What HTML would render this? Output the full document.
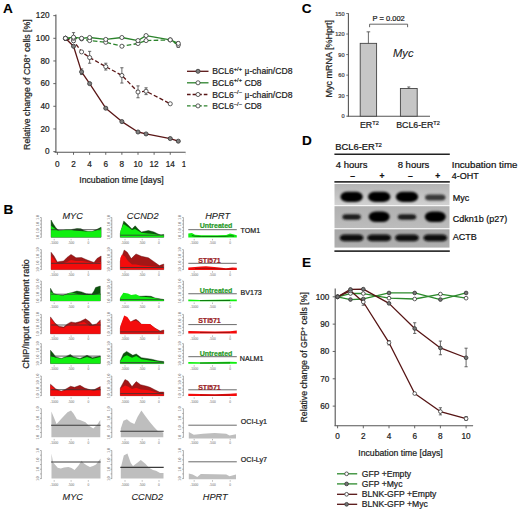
<!DOCTYPE html>
<html><head><meta charset="utf-8"><style>
html,body{margin:0;padding:0;background:#fff;overflow:hidden;}
svg{display:block;font-family:"Liberation Sans", sans-serif;}
</style></head><body>
<svg width="520" height="512" viewBox="0 0 520 512">
<rect width="520" height="512" fill="#fff"/>
<text x="3" y="13" font-size="13.6" text-anchor="start" fill="#000" font-weight="bold" font-style="normal"  stroke="#000" stroke-width="0.11">A</text>
<line x1="55.9" y1="14.5" x2="55.9" y2="152.2" stroke="#555" stroke-width="1.1" />
<line x1="54.6" y1="152.2" x2="185.6" y2="152.2" stroke="#555" stroke-width="1.1" />
<line x1="53.3" y1="151.6" x2="55.9" y2="151.6" stroke="#555" stroke-width="0.9" />
<text x="49.5" y="154.2" font-size="8.2" text-anchor="end" fill="#1c1c1c" font-weight="normal" font-style="normal"  stroke="#1c1c1c" stroke-width="0.22">0</text>
<line x1="53.3" y1="128.94" x2="55.9" y2="128.94" stroke="#555" stroke-width="0.9" />
<text x="49.5" y="131.54" font-size="8.2" text-anchor="end" fill="#1c1c1c" font-weight="normal" font-style="normal"  stroke="#1c1c1c" stroke-width="0.22">20</text>
<line x1="53.3" y1="106.28" x2="55.9" y2="106.28" stroke="#555" stroke-width="0.9" />
<text x="49.5" y="108.88" font-size="8.2" text-anchor="end" fill="#1c1c1c" font-weight="normal" font-style="normal"  stroke="#1c1c1c" stroke-width="0.22">40</text>
<line x1="53.3" y1="83.62" x2="55.9" y2="83.62" stroke="#555" stroke-width="0.9" />
<text x="49.5" y="86.22" font-size="8.2" text-anchor="end" fill="#1c1c1c" font-weight="normal" font-style="normal"  stroke="#1c1c1c" stroke-width="0.22">60</text>
<line x1="53.3" y1="60.96" x2="55.9" y2="60.96" stroke="#555" stroke-width="0.9" />
<text x="49.5" y="63.56" font-size="8.2" text-anchor="end" fill="#1c1c1c" font-weight="normal" font-style="normal"  stroke="#1c1c1c" stroke-width="0.22">80</text>
<line x1="53.3" y1="38.3" x2="55.9" y2="38.3" stroke="#555" stroke-width="0.9" />
<text x="49.5" y="40.9" font-size="8.2" text-anchor="end" fill="#1c1c1c" font-weight="normal" font-style="normal"  stroke="#1c1c1c" stroke-width="0.22">100</text>
<line x1="53.3" y1="15.64" x2="55.9" y2="15.64" stroke="#555" stroke-width="0.9" />
<text x="49.5" y="18.24" font-size="8.2" text-anchor="end" fill="#1c1c1c" font-weight="normal" font-style="normal"  stroke="#1c1c1c" stroke-width="0.22">120</text>
<line x1="57.4" y1="152.2" x2="57.4" y2="154.8" stroke="#555" stroke-width="0.9" />
<text x="57.4" y="166.6" font-size="8.2" text-anchor="middle" fill="#1c1c1c" font-weight="normal" font-style="normal"  stroke="#1c1c1c" stroke-width="0.22">0</text>
<line x1="73.52" y1="152.2" x2="73.52" y2="154.8" stroke="#555" stroke-width="0.9" />
<text x="73.52" y="166.6" font-size="8.2" text-anchor="middle" fill="#1c1c1c" font-weight="normal" font-style="normal"  stroke="#1c1c1c" stroke-width="0.22">2</text>
<line x1="89.64" y1="152.2" x2="89.64" y2="154.8" stroke="#555" stroke-width="0.9" />
<text x="89.64" y="166.6" font-size="8.2" text-anchor="middle" fill="#1c1c1c" font-weight="normal" font-style="normal"  stroke="#1c1c1c" stroke-width="0.22">4</text>
<line x1="105.76" y1="152.2" x2="105.76" y2="154.8" stroke="#555" stroke-width="0.9" />
<text x="105.76" y="166.6" font-size="8.2" text-anchor="middle" fill="#1c1c1c" font-weight="normal" font-style="normal"  stroke="#1c1c1c" stroke-width="0.22">6</text>
<line x1="121.88" y1="152.2" x2="121.88" y2="154.8" stroke="#555" stroke-width="0.9" />
<text x="121.88" y="166.6" font-size="8.2" text-anchor="middle" fill="#1c1c1c" font-weight="normal" font-style="normal"  stroke="#1c1c1c" stroke-width="0.22">8</text>
<line x1="138" y1="152.2" x2="138" y2="154.8" stroke="#555" stroke-width="0.9" />
<text x="138" y="166.6" font-size="8.2" text-anchor="middle" fill="#1c1c1c" font-weight="normal" font-style="normal"  stroke="#1c1c1c" stroke-width="0.22">10</text>
<line x1="154.12" y1="152.2" x2="154.12" y2="154.8" stroke="#555" stroke-width="0.9" />
<text x="154.12" y="166.6" font-size="8.2" text-anchor="middle" fill="#1c1c1c" font-weight="normal" font-style="normal"  stroke="#1c1c1c" stroke-width="0.22">12</text>
<line x1="170.24" y1="152.2" x2="170.24" y2="154.8" stroke="#555" stroke-width="0.9" />
<text x="170.24" y="166.6" font-size="8.2" text-anchor="middle" fill="#1c1c1c" font-weight="normal" font-style="normal"  stroke="#1c1c1c" stroke-width="0.22">14</text>
<clipPath id="cpA"><rect x="0" y="0" width="185.6" height="200"/></clipPath>
<g clip-path="url(#cpA)">
<line x1="186.36" y1="152.2" x2="186.36" y2="154.8" stroke="#555" stroke-width="0.9" />
<text x="186.36" y="166.6" font-size="8.2" text-anchor="middle" fill="#1c1c1c" font-weight="normal" font-style="normal"  stroke="#1c1c1c" stroke-width="0.22">16</text>
</g>
<text x="121.5" y="183" font-size="8.7" text-anchor="middle" fill="#1c1c1c" font-weight="normal" font-style="normal"  stroke="#1c1c1c" stroke-width="0.22">Incubation time [days]</text>
<text transform="translate(30.2,84.6) rotate(-90)" font-size="8.75" text-anchor="middle" fill="#1c1c1c" stroke="#1c1c1c" stroke-width="0.22">Relative change of CD8<tspan dy="-3" font-size="5.5">+</tspan><tspan dy="3"> cells [%]</tspan></text>
<line x1="73.52" y1="32.63" x2="73.52" y2="41.7" stroke="#444" stroke-width="0.8" />
<line x1="71.92" y1="32.63" x2="75.12" y2="32.63" stroke="#444" stroke-width="0.8" />
<line x1="71.92" y1="41.7" x2="75.12" y2="41.7" stroke="#444" stroke-width="0.8" />
<line x1="81.58" y1="68.89" x2="81.58" y2="74.56" stroke="#444" stroke-width="0.8" />
<line x1="79.98" y1="68.89" x2="83.18" y2="68.89" stroke="#444" stroke-width="0.8" />
<line x1="79.98" y1="74.56" x2="83.18" y2="74.56" stroke="#444" stroke-width="0.8" />
<line x1="89.64" y1="51.33" x2="89.64" y2="63.23" stroke="#444" stroke-width="0.8" />
<line x1="88.04" y1="51.33" x2="91.24" y2="51.33" stroke="#444" stroke-width="0.8" />
<line x1="88.04" y1="63.23" x2="91.24" y2="63.23" stroke="#444" stroke-width="0.8" />
<line x1="105.76" y1="63.23" x2="105.76" y2="70.02" stroke="#444" stroke-width="0.8" />
<line x1="104.16" y1="63.23" x2="107.36" y2="63.23" stroke="#444" stroke-width="0.8" />
<line x1="104.16" y1="70.02" x2="107.36" y2="70.02" stroke="#444" stroke-width="0.8" />
<line x1="121.88" y1="67.76" x2="121.88" y2="83.05" stroke="#444" stroke-width="0.8" />
<line x1="120.28" y1="67.76" x2="123.48" y2="67.76" stroke="#444" stroke-width="0.8" />
<line x1="120.28" y1="83.05" x2="123.48" y2="83.05" stroke="#444" stroke-width="0.8" />
<line x1="138" y1="85.89" x2="138" y2="97.78" stroke="#444" stroke-width="0.8" />
<line x1="136.4" y1="85.89" x2="139.6" y2="85.89" stroke="#444" stroke-width="0.8" />
<line x1="136.4" y1="97.78" x2="139.6" y2="97.78" stroke="#444" stroke-width="0.8" />
<line x1="146.06" y1="87.81" x2="146.06" y2="94.61" stroke="#444" stroke-width="0.8" />
<line x1="144.46" y1="87.81" x2="147.66" y2="87.81" stroke="#444" stroke-width="0.8" />
<line x1="144.46" y1="94.61" x2="147.66" y2="94.61" stroke="#444" stroke-width="0.8" />
<line x1="178.3" y1="41.7" x2="178.3" y2="47.36" stroke="#444" stroke-width="0.8" />
<line x1="176.7" y1="41.7" x2="179.9" y2="41.7" stroke="#444" stroke-width="0.8" />
<line x1="176.7" y1="47.36" x2="179.9" y2="47.36" stroke="#444" stroke-width="0.8" />
<polyline points="65.46,38.3 73.52,46.23 81.58,71.84 89.64,83.62 105.76,108.21 121.88,121.58 138,132 146.06,133.93 170.24,138.57 178.3,141.18" fill="none" stroke="#5a1616" stroke-width="1.3"  stroke-linejoin="round" />
<polyline points="65.46,38.3 73.52,40.79 81.58,51.9 89.64,57.56 105.76,66.62 121.88,75.46 138,92 146.06,91.21 170.24,103.79" fill="none" stroke="#5a1616" stroke-width="1.3" stroke-dasharray="4.2,2.2" stroke-linejoin="round" />
<polyline points="65.46,38.3 73.52,38.3 81.58,38.87 89.64,40.57 105.76,42.27 121.88,46.23 138,43.51 146.06,40.57 170.24,39.89 178.3,45.1" fill="none" stroke="#2c832c" stroke-width="1.3" stroke-dasharray="4.6,2.3" stroke-linejoin="round" />
<polyline points="65.46,38.3 73.52,37.17 81.58,38.3 89.64,37.51 105.76,39.43 121.88,37.51 138,40.57 146.06,35.58 170.24,39.89 178.3,43.4" fill="none" stroke="#2c832c" stroke-width="1.3"  stroke-linejoin="round" />
<circle cx="65.46" cy="38.3" r="2.05" fill="#808080" stroke="#333" stroke-width="0.8"/>
<circle cx="73.52" cy="46.23" r="2.05" fill="#808080" stroke="#333" stroke-width="0.8"/>
<circle cx="81.58" cy="71.84" r="2.05" fill="#808080" stroke="#333" stroke-width="0.8"/>
<circle cx="89.64" cy="83.62" r="2.05" fill="#808080" stroke="#333" stroke-width="0.8"/>
<circle cx="105.76" cy="108.21" r="2.05" fill="#808080" stroke="#333" stroke-width="0.8"/>
<circle cx="121.88" cy="121.58" r="2.05" fill="#808080" stroke="#333" stroke-width="0.8"/>
<circle cx="138" cy="132" r="2.05" fill="#808080" stroke="#333" stroke-width="0.8"/>
<circle cx="146.06" cy="133.93" r="2.05" fill="#808080" stroke="#333" stroke-width="0.8"/>
<circle cx="170.24" cy="138.57" r="2.05" fill="#808080" stroke="#333" stroke-width="0.8"/>
<circle cx="178.3" cy="141.18" r="2.05" fill="#808080" stroke="#333" stroke-width="0.8"/>
<circle cx="65.46" cy="38.3" r="2.05" fill="#fff" stroke="#333" stroke-width="0.8"/>
<circle cx="73.52" cy="40.79" r="2.05" fill="#fff" stroke="#333" stroke-width="0.8"/>
<circle cx="81.58" cy="51.9" r="2.05" fill="#fff" stroke="#333" stroke-width="0.8"/>
<circle cx="89.64" cy="57.56" r="2.05" fill="#fff" stroke="#333" stroke-width="0.8"/>
<circle cx="105.76" cy="66.62" r="2.05" fill="#fff" stroke="#333" stroke-width="0.8"/>
<circle cx="121.88" cy="75.46" r="2.05" fill="#fff" stroke="#333" stroke-width="0.8"/>
<circle cx="138" cy="92" r="2.05" fill="#fff" stroke="#333" stroke-width="0.8"/>
<circle cx="146.06" cy="91.21" r="2.05" fill="#fff" stroke="#333" stroke-width="0.8"/>
<circle cx="170.24" cy="103.79" r="2.05" fill="#fff" stroke="#333" stroke-width="0.8"/>
<circle cx="65.46" cy="38.3" r="2.05" fill="#fff" stroke="#333" stroke-width="0.8"/>
<circle cx="73.52" cy="38.3" r="2.05" fill="#fff" stroke="#333" stroke-width="0.8"/>
<circle cx="81.58" cy="38.87" r="2.05" fill="#fff" stroke="#333" stroke-width="0.8"/>
<circle cx="89.64" cy="40.57" r="2.05" fill="#fff" stroke="#333" stroke-width="0.8"/>
<circle cx="105.76" cy="42.27" r="2.05" fill="#fff" stroke="#333" stroke-width="0.8"/>
<circle cx="121.88" cy="46.23" r="2.05" fill="#fff" stroke="#333" stroke-width="0.8"/>
<circle cx="138" cy="43.51" r="2.05" fill="#fff" stroke="#333" stroke-width="0.8"/>
<circle cx="146.06" cy="40.57" r="2.05" fill="#fff" stroke="#333" stroke-width="0.8"/>
<circle cx="170.24" cy="39.89" r="2.05" fill="#fff" stroke="#333" stroke-width="0.8"/>
<circle cx="178.3" cy="45.1" r="2.05" fill="#fff" stroke="#333" stroke-width="0.8"/>
<circle cx="65.46" cy="38.3" r="2.05" fill="#fff" stroke="#333" stroke-width="0.8"/>
<circle cx="73.52" cy="37.17" r="2.05" fill="#fff" stroke="#333" stroke-width="0.8"/>
<circle cx="81.58" cy="38.3" r="2.05" fill="#fff" stroke="#333" stroke-width="0.8"/>
<circle cx="89.64" cy="37.51" r="2.05" fill="#fff" stroke="#333" stroke-width="0.8"/>
<circle cx="105.76" cy="39.43" r="2.05" fill="#fff" stroke="#333" stroke-width="0.8"/>
<circle cx="121.88" cy="37.51" r="2.05" fill="#fff" stroke="#333" stroke-width="0.8"/>
<circle cx="138" cy="40.57" r="2.05" fill="#fff" stroke="#333" stroke-width="0.8"/>
<circle cx="146.06" cy="35.58" r="2.05" fill="#fff" stroke="#333" stroke-width="0.8"/>
<circle cx="170.24" cy="39.89" r="2.05" fill="#fff" stroke="#333" stroke-width="0.8"/>
<circle cx="178.3" cy="43.4" r="2.05" fill="#fff" stroke="#333" stroke-width="0.8"/>
<polyline points="187,71.3 208.5,71.3" fill="none" stroke="#5a1616" stroke-width="1.3"  stroke-linejoin="round" />
<circle cx="198" cy="71.3" r="2.05" fill="#808080" stroke="#333" stroke-width="0.8"/>
<text x="212.3" y="74.3" font-size="8.6" fill="#1c1c1c" stroke="#1c1c1c" stroke-width="0.22">BCL6<tspan dy="-3.4" font-size="5.7">+/+</tspan><tspan dy="3.4"> <tspan font-family="Liberation Serif, serif" font-size="9.4">μ</tspan>-chain/CD8</tspan></text>
<polyline points="187,82.8 208.5,82.8" fill="none" stroke="#2c832c" stroke-width="1.3"  stroke-linejoin="round" />
<circle cx="198" cy="82.8" r="2.05" fill="#fff" stroke="#333" stroke-width="0.8"/>
<text x="212.3" y="85.8" font-size="8.6" fill="#1c1c1c" stroke="#1c1c1c" stroke-width="0.22">BCL6<tspan dy="-3.4" font-size="5.7">+/+</tspan><tspan dy="3.4"> CD8</tspan></text>
<polyline points="187,94.5 208.5,94.5" fill="none" stroke="#5a1616" stroke-width="1.3" stroke-dasharray="3.6,2" stroke-linejoin="round" />
<circle cx="198" cy="94.5" r="2.05" fill="#fff" stroke="#333" stroke-width="0.8"/>
<text x="212.3" y="97.5" font-size="8.6" fill="#1c1c1c" stroke="#1c1c1c" stroke-width="0.22">BCL6<tspan dy="-3.4" font-size="5.7">−/−</tspan><tspan dy="3.4"> <tspan font-family="Liberation Serif, serif" font-size="9.4">μ</tspan>-chain/CD8</tspan></text>
<polyline points="187,105.9 208.5,105.9" fill="none" stroke="#2c832c" stroke-width="1.3" stroke-dasharray="3.6,2" stroke-linejoin="round" />
<circle cx="198" cy="105.9" r="2.05" fill="#fff" stroke="#333" stroke-width="0.8"/>
<text x="212.3" y="108.9" font-size="8.6" fill="#1c1c1c" stroke="#1c1c1c" stroke-width="0.22">BCL6<tspan dy="-3.4" font-size="5.7">−/−</tspan><tspan dy="3.4"> CD8</tspan></text>
<text x="301.8" y="13" font-size="13.6" text-anchor="start" fill="#000" font-weight="bold" font-style="normal"  stroke="#000" stroke-width="0.11">C</text>
<line x1="348.4" y1="13.3" x2="348.4" y2="116.4" stroke="#555" stroke-width="1.1" />
<line x1="347.5" y1="116.2" x2="430" y2="116.2" stroke="#555" stroke-width="1.1" />
<line x1="346.2" y1="116.2" x2="348.4" y2="116.2" stroke="#555" stroke-width="0.8" />
<text x="344.5" y="118.2" font-size="5.6" text-anchor="end" fill="#444" font-weight="normal" font-style="normal"  stroke="#444" stroke-width="0.22">0</text>
<line x1="346.2" y1="95.66" x2="348.4" y2="95.66" stroke="#555" stroke-width="0.8" />
<text x="344.5" y="97.66" font-size="5.6" text-anchor="end" fill="#444" font-weight="normal" font-style="normal"  stroke="#444" stroke-width="0.22">30</text>
<line x1="346.2" y1="75.12" x2="348.4" y2="75.12" stroke="#555" stroke-width="0.8" />
<text x="344.5" y="77.12" font-size="5.6" text-anchor="end" fill="#444" font-weight="normal" font-style="normal"  stroke="#444" stroke-width="0.22">60</text>
<line x1="346.2" y1="54.58" x2="348.4" y2="54.58" stroke="#555" stroke-width="0.8" />
<text x="344.5" y="56.58" font-size="5.6" text-anchor="end" fill="#444" font-weight="normal" font-style="normal"  stroke="#444" stroke-width="0.22">90</text>
<line x1="346.2" y1="34.04" x2="348.4" y2="34.04" stroke="#555" stroke-width="0.8" />
<text x="344.5" y="36.04" font-size="5.6" text-anchor="end" fill="#444" font-weight="normal" font-style="normal"  stroke="#444" stroke-width="0.22">120</text>
<line x1="346.2" y1="13.5" x2="348.4" y2="13.5" stroke="#555" stroke-width="0.8" />
<text x="344.5" y="15.5" font-size="5.6" text-anchor="end" fill="#444" font-weight="normal" font-style="normal"  stroke="#444" stroke-width="0.22">150</text>
<text transform="translate(332.2,58.85) rotate(-90)" font-size="9" text-anchor="middle" fill="#1c1c1c" stroke="#1c1c1c" stroke-width="0.22">Myc mRNA [%Hprt]</text>
<rect x="360.2" y="43.35" width="16.4" height="72.85" fill="#c6c6c6" stroke="#444" stroke-width="0.9"/>
<rect x="400.4" y="88.47" width="16.8" height="27.73" fill="#c6c6c6" stroke="#444" stroke-width="0.9"/>
<line x1="368.4" y1="43.35" x2="368.4" y2="31.84" stroke="#444" stroke-width="0.8" />
<line x1="366.6" y1="31.84" x2="370.2" y2="31.84" stroke="#444" stroke-width="0.8" />
<line x1="408.8" y1="88.47" x2="408.8" y2="86.96" stroke="#444" stroke-width="0.8" />
<line x1="407.3" y1="86.96" x2="410.3" y2="86.96" stroke="#444" stroke-width="0.8" />
<polyline points="369.6,27.2 369.6,24.2 407.6,24.2 407.6,27.2" fill="none" stroke="#555" stroke-width="0.9"  stroke-linejoin="round" />
<text x="388.7" y="21.1" font-size="7.5" text-anchor="middle" fill="#1c1c1c" font-weight="normal" font-style="normal"  stroke="#1c1c1c" stroke-width="0.22">P = 0.002</text>
<text x="393" y="57.2" font-size="11.2" text-anchor="start" fill="#222" font-weight="normal" font-style="italic"  stroke="#222" stroke-width="0.099">Myc</text>
<text x="360" y="127.8" font-size="8.8" fill="#1c1c1c" stroke="#1c1c1c" stroke-width="0.22">ER<tspan dy="-3.3" font-size="5.6">T2</tspan></text>
<text x="396.2" y="127.8" font-size="8.8" fill="#1c1c1c" stroke="#1c1c1c" stroke-width="0.22">BCL6-ER<tspan dy="-3.3" font-size="5.6">T2</tspan></text>
<text x="301.9" y="145.3" font-size="13.6" text-anchor="start" fill="#000" font-weight="bold" font-style="normal"  stroke="#000" stroke-width="0.11">D</text>
<text x="335.3" y="150" font-size="9.4" fill="#111" stroke="#111" stroke-width="0.22">BCL6-ER<tspan dy="-3.5" font-size="6">T2</tspan></text>
<line x1="334.4" y1="154.3" x2="449.8" y2="154.3" stroke="#222" stroke-width="1.6" />
<text x="335.8" y="167.9" font-size="9.5" text-anchor="start" fill="#111" font-weight="normal" font-style="normal"  stroke="#111" stroke-width="0.22">4 hours</text>
<text x="397.7" y="167.9" font-size="9.5" text-anchor="start" fill="#111" font-weight="normal" font-style="normal"  stroke="#111" stroke-width="0.22">8 hours</text>
<text x="451.7" y="167.9" font-size="9.7" text-anchor="start" fill="#111" font-weight="normal" font-style="normal"  stroke="#111" stroke-width="0.22">Incubation time</text>
<text x="352.7" y="179" font-size="8.5" text-anchor="middle" fill="#111" font-weight="bold" font-style="normal"  stroke="#111" stroke-width="0.22">–</text>
<text x="381.9" y="179" font-size="8.5" text-anchor="middle" fill="#111" font-weight="bold" font-style="normal"  stroke="#111" stroke-width="0.22">+</text>
<text x="410.4" y="179" font-size="8.5" text-anchor="middle" fill="#111" font-weight="bold" font-style="normal"  stroke="#111" stroke-width="0.22">–</text>
<text x="437.7" y="179" font-size="8.5" text-anchor="middle" fill="#111" font-weight="bold" font-style="normal"  stroke="#111" stroke-width="0.22">+</text>
<text x="451.7" y="178.6" font-size="9" text-anchor="start" fill="#111" font-weight="normal" font-style="normal"  stroke="#111" stroke-width="0.22">4-OHT</text>
<line x1="334.4" y1="181.9" x2="449.8" y2="181.9" stroke="#333" stroke-width="1.6" />
<defs><linearGradient id="g1" x1="0" y1="0" x2="0" y2="1"><stop offset="0" stop-color="#b4b4b4"/><stop offset="0.5" stop-color="#c2c2c2"/><stop offset="1" stop-color="#d2d2d2"/></linearGradient><linearGradient id="g2" x1="0" y1="0" x2="0" y2="1"><stop offset="0" stop-color="#b0b0b0"/><stop offset="1" stop-color="#bcbcbc"/></linearGradient><linearGradient id="g3" x1="0" y1="0" x2="0" y2="1"><stop offset="0" stop-color="#a6a6a6"/><stop offset="1" stop-color="#afafaf"/></linearGradient><filter id="bl" x="-50%" y="-50%" width="200%" height="200%"><feGaussianBlur stdDeviation="1.3"/></filter><filter id="bl2" x="-50%" y="-50%" width="200%" height="200%"><feGaussianBlur stdDeviation="0.85"/></filter></defs>
<rect x="334.5" y="184" width="115" height="21.2" fill="url(#g1)"/>
<rect x="334.5" y="206.2" width="115" height="22" fill="url(#g2)"/>
<rect x="334.5" y="229.3" width="115" height="18.3" fill="url(#g3)"/>
<rect x="340.4" y="191.7" width="22.4" height="10.2" rx="7.14" ry="5.1" fill="#060606" filter="url(#bl2)"/>
<rect x="368" y="191.7" width="22.4" height="10.2" rx="7.14" ry="5.1" fill="#060606" filter="url(#bl2)"/>
<rect x="395.8" y="191.7" width="22.4" height="10.2" rx="7.14" ry="5.1" fill="#060606" filter="url(#bl2)"/>
<rect x="425.05" y="194.6" width="20.5" height="6" rx="4.2" ry="3" fill="#3a3a3a" filter="url(#bl)"/>
<rect x="342.35" y="214.2" width="18.5" height="5.6" rx="3.92" ry="2.8" fill="#1e1e1e" filter="url(#bl)"/>
<rect x="368.7" y="211.6" width="21" height="10.4" rx="7.28" ry="5.2" fill="#060606" filter="url(#bl2)"/>
<rect x="397.75" y="214.2" width="18.5" height="5.6" rx="3.92" ry="2.8" fill="#1e1e1e" filter="url(#bl)"/>
<rect x="424.8" y="211.6" width="21" height="10.4" rx="7.28" ry="5.2" fill="#060606" filter="url(#bl2)"/>
<rect x="339.7" y="234.5" width="23.8" height="6.8" rx="4.76" ry="3.4" fill="#0a0a0a" filter="url(#bl2)"/>
<rect x="367.3" y="234.5" width="23.8" height="6.8" rx="4.76" ry="3.4" fill="#0a0a0a" filter="url(#bl2)"/>
<rect x="395.1" y="234.5" width="23.8" height="6.8" rx="4.76" ry="3.4" fill="#0a0a0a" filter="url(#bl2)"/>
<rect x="423.4" y="234.5" width="23.8" height="6.8" rx="4.76" ry="3.4" fill="#0a0a0a" filter="url(#bl2)"/>
<line x1="334.4" y1="251.1" x2="449.8" y2="251.1" stroke="#333" stroke-width="1.6" />
<text x="452.7" y="201.4" font-size="9" text-anchor="start" fill="#111" font-weight="normal" font-style="normal"  stroke="#111" stroke-width="0.22">Myc</text>
<text x="452.7" y="221.8" font-size="9" text-anchor="start" fill="#111" font-weight="normal" font-style="normal"  stroke="#111" stroke-width="0.22">Cdkn1b (p27)</text>
<text x="452.7" y="240.4" font-size="9" text-anchor="start" fill="#111" font-weight="normal" font-style="normal"  stroke="#111" stroke-width="0.22">ACTB</text>
<text x="301.9" y="266.8" font-size="13.6" text-anchor="start" fill="#000" font-weight="bold" font-style="normal"  stroke="#000" stroke-width="0.11">E</text>
<line x1="335.2" y1="288.6" x2="335.2" y2="425.7" stroke="#555" stroke-width="1.1" />
<line x1="334.5" y1="425.7" x2="473.1" y2="425.7" stroke="#555" stroke-width="1.1" />
<line x1="332.7" y1="406.12" x2="335.2" y2="406.12" stroke="#555" stroke-width="0.9" />
<text x="329.3" y="409.02" font-size="8.2" text-anchor="end" fill="#1c1c1c" font-weight="normal" font-style="normal"  stroke="#1c1c1c" stroke-width="0.22">60</text>
<line x1="332.7" y1="378.79" x2="335.2" y2="378.79" stroke="#555" stroke-width="0.9" />
<text x="329.3" y="381.69" font-size="8.2" text-anchor="end" fill="#1c1c1c" font-weight="normal" font-style="normal"  stroke="#1c1c1c" stroke-width="0.22">70</text>
<line x1="332.7" y1="351.46" x2="335.2" y2="351.46" stroke="#555" stroke-width="0.9" />
<text x="329.3" y="354.36" font-size="8.2" text-anchor="end" fill="#1c1c1c" font-weight="normal" font-style="normal"  stroke="#1c1c1c" stroke-width="0.22">80</text>
<line x1="332.7" y1="324.13" x2="335.2" y2="324.13" stroke="#555" stroke-width="0.9" />
<text x="329.3" y="327.03" font-size="8.2" text-anchor="end" fill="#1c1c1c" font-weight="normal" font-style="normal"  stroke="#1c1c1c" stroke-width="0.22">90</text>
<line x1="332.7" y1="296.8" x2="335.2" y2="296.8" stroke="#555" stroke-width="0.9" />
<text x="329.3" y="299.7" font-size="8.2" text-anchor="end" fill="#1c1c1c" font-weight="normal" font-style="normal"  stroke="#1c1c1c" stroke-width="0.22">100</text>
<line x1="337.6" y1="425.7" x2="337.6" y2="428.3" stroke="#555" stroke-width="0.9" />
<text x="337.6" y="439.3" font-size="8.2" text-anchor="middle" fill="#1c1c1c" font-weight="normal" font-style="normal"  stroke="#1c1c1c" stroke-width="0.22">0</text>
<line x1="363.3" y1="425.7" x2="363.3" y2="428.3" stroke="#555" stroke-width="0.9" />
<text x="363.3" y="439.3" font-size="8.2" text-anchor="middle" fill="#1c1c1c" font-weight="normal" font-style="normal"  stroke="#1c1c1c" stroke-width="0.22">2</text>
<line x1="389" y1="425.7" x2="389" y2="428.3" stroke="#555" stroke-width="0.9" />
<text x="389" y="439.3" font-size="8.2" text-anchor="middle" fill="#1c1c1c" font-weight="normal" font-style="normal"  stroke="#1c1c1c" stroke-width="0.22">4</text>
<line x1="414.7" y1="425.7" x2="414.7" y2="428.3" stroke="#555" stroke-width="0.9" />
<text x="414.7" y="439.3" font-size="8.2" text-anchor="middle" fill="#1c1c1c" font-weight="normal" font-style="normal"  stroke="#1c1c1c" stroke-width="0.22">6</text>
<line x1="440.4" y1="425.7" x2="440.4" y2="428.3" stroke="#555" stroke-width="0.9" />
<text x="440.4" y="439.3" font-size="8.2" text-anchor="middle" fill="#1c1c1c" font-weight="normal" font-style="normal"  stroke="#1c1c1c" stroke-width="0.22">8</text>
<line x1="466.1" y1="425.7" x2="466.1" y2="428.3" stroke="#555" stroke-width="0.9" />
<text x="466.1" y="439.3" font-size="8.2" text-anchor="middle" fill="#1c1c1c" font-weight="normal" font-style="normal"  stroke="#1c1c1c" stroke-width="0.22">10</text>
<text x="400.5" y="456.4" font-size="8.7" text-anchor="middle" fill="#1c1c1c" font-weight="normal" font-style="normal"  stroke="#1c1c1c" stroke-width="0.22">Incubation time [days]</text>
<text transform="translate(306.9,357.3) rotate(-90)" font-size="8.7" text-anchor="middle" fill="#1c1c1c" stroke="#1c1c1c" stroke-width="0.22">Relative change of GFP<tspan dy="-3" font-size="5.5">+</tspan><tspan dy="3"> cells [%]</tspan></text>
<line x1="363.3" y1="298.99" x2="363.3" y2="305.27" stroke="#444" stroke-width="0.8" />
<line x1="361.7" y1="298.99" x2="364.9" y2="298.99" stroke="#444" stroke-width="0.8" />
<line x1="361.7" y1="305.27" x2="364.9" y2="305.27" stroke="#444" stroke-width="0.8" />
<line x1="414.7" y1="322.76" x2="414.7" y2="333.42" stroke="#444" stroke-width="0.8" />
<line x1="413.1" y1="322.76" x2="416.3" y2="322.76" stroke="#444" stroke-width="0.8" />
<line x1="413.1" y1="333.42" x2="416.3" y2="333.42" stroke="#444" stroke-width="0.8" />
<line x1="440.4" y1="341.07" x2="440.4" y2="354.74" stroke="#444" stroke-width="0.8" />
<line x1="438.8" y1="341.07" x2="442" y2="341.07" stroke="#444" stroke-width="0.8" />
<line x1="438.8" y1="354.74" x2="442" y2="354.74" stroke="#444" stroke-width="0.8" />
<line x1="466.1" y1="348.18" x2="466.1" y2="366.76" stroke="#444" stroke-width="0.8" />
<line x1="464.5" y1="348.18" x2="467.7" y2="348.18" stroke="#444" stroke-width="0.8" />
<line x1="464.5" y1="366.76" x2="467.7" y2="366.76" stroke="#444" stroke-width="0.8" />
<line x1="440.4" y1="407.76" x2="440.4" y2="414.87" stroke="#444" stroke-width="0.8" />
<line x1="438.8" y1="407.76" x2="442" y2="407.76" stroke="#444" stroke-width="0.8" />
<line x1="438.8" y1="414.87" x2="442" y2="414.87" stroke="#444" stroke-width="0.8" />
<line x1="466.1" y1="416.51" x2="466.1" y2="420.33" stroke="#444" stroke-width="0.8" />
<line x1="464.5" y1="416.51" x2="467.7" y2="416.51" stroke="#444" stroke-width="0.8" />
<line x1="464.5" y1="420.33" x2="467.7" y2="420.33" stroke="#444" stroke-width="0.8" />
<line x1="389" y1="340.53" x2="389" y2="344.9" stroke="#444" stroke-width="0.8" />
<line x1="387.4" y1="340.53" x2="390.6" y2="340.53" stroke="#444" stroke-width="0.8" />
<line x1="387.4" y1="344.9" x2="390.6" y2="344.9" stroke="#444" stroke-width="0.8" />
<polyline points="337.6,296.8 350.45,293.52 363.3,293.52 389,298.17 414.7,298.99 440.4,294.07 466.1,298.17" fill="none" stroke="#2c8a2c" stroke-width="1.3"  stroke-linejoin="round" />
<polyline points="337.6,296.8 350.45,299.53 363.3,298.99 389,292.97 414.7,292.97 440.4,299.53 466.1,292.97" fill="none" stroke="#2c8a2c" stroke-width="1.3"  stroke-linejoin="round" />
<polyline points="337.6,296.8 350.45,290.79 363.3,301.99 389,342.71 414.7,393.55 440.4,411.59 466.1,418.69" fill="none" stroke="#561414" stroke-width="1.3"  stroke-linejoin="round" />
<polyline points="337.6,296.8 350.45,289.42 363.3,289.15 389,303.36 414.7,328.5 440.4,347.91 466.1,357.75" fill="none" stroke="#561414" stroke-width="1.3"  stroke-linejoin="round" />
<circle cx="337.6" cy="296.8" r="1.85" fill="#fff" stroke="#333" stroke-width="0.8"/>
<circle cx="350.45" cy="293.52" r="1.85" fill="#fff" stroke="#333" stroke-width="0.8"/>
<circle cx="363.3" cy="293.52" r="1.85" fill="#fff" stroke="#333" stroke-width="0.8"/>
<circle cx="389" cy="298.17" r="1.85" fill="#fff" stroke="#333" stroke-width="0.8"/>
<circle cx="414.7" cy="298.99" r="1.85" fill="#fff" stroke="#333" stroke-width="0.8"/>
<circle cx="440.4" cy="294.07" r="1.85" fill="#fff" stroke="#333" stroke-width="0.8"/>
<circle cx="466.1" cy="298.17" r="1.85" fill="#fff" stroke="#333" stroke-width="0.8"/>
<circle cx="337.6" cy="296.8" r="1.85" fill="#777" stroke="#333" stroke-width="0.8"/>
<circle cx="350.45" cy="299.53" r="1.85" fill="#777" stroke="#333" stroke-width="0.8"/>
<circle cx="363.3" cy="298.99" r="1.85" fill="#777" stroke="#333" stroke-width="0.8"/>
<circle cx="389" cy="292.97" r="1.85" fill="#777" stroke="#333" stroke-width="0.8"/>
<circle cx="414.7" cy="292.97" r="1.85" fill="#777" stroke="#333" stroke-width="0.8"/>
<circle cx="440.4" cy="299.53" r="1.85" fill="#777" stroke="#333" stroke-width="0.8"/>
<circle cx="466.1" cy="292.97" r="1.85" fill="#777" stroke="#333" stroke-width="0.8"/>
<circle cx="337.6" cy="296.8" r="1.85" fill="#fff" stroke="#333" stroke-width="0.8"/>
<circle cx="350.45" cy="290.79" r="1.85" fill="#fff" stroke="#333" stroke-width="0.8"/>
<circle cx="363.3" cy="301.99" r="1.85" fill="#fff" stroke="#333" stroke-width="0.8"/>
<circle cx="389" cy="342.71" r="1.85" fill="#fff" stroke="#333" stroke-width="0.8"/>
<circle cx="414.7" cy="393.55" r="1.85" fill="#fff" stroke="#333" stroke-width="0.8"/>
<circle cx="440.4" cy="411.59" r="1.85" fill="#fff" stroke="#333" stroke-width="0.8"/>
<circle cx="466.1" cy="418.69" r="1.85" fill="#fff" stroke="#333" stroke-width="0.8"/>
<circle cx="337.6" cy="296.8" r="1.85" fill="#777" stroke="#333" stroke-width="0.8"/>
<circle cx="350.45" cy="289.42" r="1.85" fill="#777" stroke="#333" stroke-width="0.8"/>
<circle cx="363.3" cy="289.15" r="1.85" fill="#777" stroke="#333" stroke-width="0.8"/>
<circle cx="389" cy="303.36" r="1.85" fill="#777" stroke="#333" stroke-width="0.8"/>
<circle cx="414.7" cy="328.5" r="1.85" fill="#777" stroke="#333" stroke-width="0.8"/>
<circle cx="440.4" cy="347.91" r="1.85" fill="#777" stroke="#333" stroke-width="0.8"/>
<circle cx="466.1" cy="357.75" r="1.85" fill="#777" stroke="#333" stroke-width="0.8"/>
<line x1="337" y1="473.8" x2="357.2" y2="473.8" stroke="#2c8a2c" stroke-width="1.3" />
<circle cx="346.6" cy="473.8" r="1.85" fill="#fff" stroke="#333" stroke-width="0.8"/>
<text x="361.8" y="476.8" font-size="8.6" text-anchor="start" fill="#1c1c1c" font-weight="normal" font-style="normal"  stroke="#1c1c1c" stroke-width="0.22">GFP +Empty</text>
<line x1="337" y1="483.9" x2="357.2" y2="483.9" stroke="#2c8a2c" stroke-width="1.3" />
<circle cx="346.6" cy="483.9" r="1.85" fill="#777" stroke="#333" stroke-width="0.8"/>
<text x="361.8" y="486.9" font-size="8.6" text-anchor="start" fill="#1c1c1c" font-weight="normal" font-style="normal"  stroke="#1c1c1c" stroke-width="0.22">GFP +Myc</text>
<line x1="337" y1="494.3" x2="357.2" y2="494.3" stroke="#561414" stroke-width="1.3" />
<circle cx="346.6" cy="494.3" r="1.85" fill="#fff" stroke="#333" stroke-width="0.8"/>
<text x="361.8" y="497.3" font-size="8.6" text-anchor="start" fill="#1c1c1c" font-weight="normal" font-style="normal"  stroke="#1c1c1c" stroke-width="0.22">BLNK-GFP +Empty</text>
<line x1="337" y1="504.3" x2="357.2" y2="504.3" stroke="#561414" stroke-width="1.3" />
<circle cx="346.6" cy="504.3" r="1.85" fill="#777" stroke="#333" stroke-width="0.8"/>
<text x="361.8" y="507.3" font-size="8.6" text-anchor="start" fill="#1c1c1c" font-weight="normal" font-style="normal"  stroke="#1c1c1c" stroke-width="0.22">BLNK-GFP +Myc</text>
<text x="3.6" y="214.2" font-size="13.6" text-anchor="start" fill="#000" font-weight="bold" font-style="normal"  stroke="#000" stroke-width="0.11">B</text>
<text transform="translate(29.4,313.9) rotate(-90)" font-size="9.0" text-anchor="middle" fill="#1c1c1c" stroke="#1c1c1c" stroke-width="0.22">ChIP/Input enrichment ratio</text>
<text x="72.6" y="219.2" font-size="9.2" text-anchor="middle" fill="#222" font-weight="normal" font-style="italic"  stroke="#222" stroke-width="0.099">MYC</text>
<text x="142.7" y="219.2" font-size="9.2" text-anchor="middle" fill="#222" font-weight="normal" font-style="italic"  stroke="#222" stroke-width="0.099">CCND2</text>
<text x="217.6" y="219.2" font-size="9.2" text-anchor="middle" fill="#222" font-weight="normal" font-style="italic"  stroke="#222" stroke-width="0.099">HPRT</text>
<text x="72.8" y="500.4" font-size="9.2" text-anchor="middle" fill="#222" font-weight="normal" font-style="italic"  stroke="#222" stroke-width="0.099">MYC</text>
<text x="147.3" y="500.4" font-size="9.2" text-anchor="middle" fill="#222" font-weight="normal" font-style="italic"  stroke="#222" stroke-width="0.099">CCND2</text>
<text x="215.2" y="500.4" font-size="9.2" text-anchor="middle" fill="#222" font-weight="normal" font-style="italic"  stroke="#222" stroke-width="0.099">HPRT</text>
<line x1="41.3" y1="217.5" x2="41.3" y2="237.6" stroke="#777" stroke-width="0.6" />
<line x1="40" y1="217.5" x2="41.3" y2="217.5" stroke="#777" stroke-width="0.55" />
<line x1="40" y1="220.8" x2="41.3" y2="220.8" stroke="#777" stroke-width="0.55" />
<line x1="40" y1="224.1" x2="41.3" y2="224.1" stroke="#777" stroke-width="0.55" />
<line x1="40" y1="227.4" x2="41.3" y2="227.4" stroke="#777" stroke-width="0.55" />
<line x1="40" y1="230.7" x2="41.3" y2="230.7" stroke="#777" stroke-width="0.55" />
<line x1="40" y1="234" x2="41.3" y2="234" stroke="#777" stroke-width="0.55" />
<line x1="40" y1="237.3" x2="41.3" y2="237.3" stroke="#777" stroke-width="0.55" />
<text transform="translate(39.1,217.5) rotate(-90)" font-size="3.2" text-anchor="middle" fill="#666">1.0</text>
<text transform="translate(39.1,224.1) rotate(-90)" font-size="3.2" text-anchor="middle" fill="#666">1.0</text>
<text transform="translate(39.1,230.7) rotate(-90)" font-size="3.2" text-anchor="middle" fill="#666">1.0</text>
<text transform="translate(39.1,237.3) rotate(-90)" font-size="3.2" text-anchor="middle" fill="#666">1.0</text>
<line x1="54.2" y1="238.9" x2="54.2" y2="240.4" stroke="#777" stroke-width="0.5" />
<line x1="71.1" y1="238.9" x2="71.1" y2="240.4" stroke="#777" stroke-width="0.5" />
<line x1="88.3" y1="238.9" x2="88.3" y2="240.4" stroke="#777" stroke-width="0.5" />
<text x="54.2" y="243.7" font-size="3.2" text-anchor="middle" fill="#666" font-weight="normal" font-style="normal" >-1000</text>
<text x="71.1" y="243.7" font-size="3.2" text-anchor="middle" fill="#666" font-weight="normal" font-style="normal" >-500</text>
<text x="88.3" y="243.7" font-size="3.2" text-anchor="middle" fill="#666" font-weight="normal" font-style="normal" >0</text>
<polygon points="51.1,237.3 51.1,220 53,223.5 56,228 59,230.6 64,230.5 70,230.2 73,229.2 77,228.6 81,228.8 84,230.5 88,231.5 92,231.6 96,229.8 101.1,227.3 101.1,237.3" fill="#0b560b" stroke="#062e06" stroke-width="0.4" />
<polygon points="51.1,237.3 51.1,225.8 54,228 57,230.3 59,230.8 62,230.2 66,229.5 70,229.6 74,230.4 80,231 86,231.4 92,231.4 96,230.6 101.1,228.4 101.1,237.3" fill="#10f010" stroke="none" stroke-width="0" />
<line x1="51.1" y1="229.7" x2="100.6" y2="229.7" stroke="#333" stroke-width="0.8" />
<line x1="41.3" y1="249.6" x2="41.3" y2="269.9" stroke="#777" stroke-width="0.6" />
<line x1="40" y1="249.6" x2="41.3" y2="249.6" stroke="#777" stroke-width="0.55" />
<line x1="40" y1="252.93" x2="41.3" y2="252.93" stroke="#777" stroke-width="0.55" />
<line x1="40" y1="256.27" x2="41.3" y2="256.27" stroke="#777" stroke-width="0.55" />
<line x1="40" y1="259.6" x2="41.3" y2="259.6" stroke="#777" stroke-width="0.55" />
<line x1="40" y1="262.93" x2="41.3" y2="262.93" stroke="#777" stroke-width="0.55" />
<line x1="40" y1="266.27" x2="41.3" y2="266.27" stroke="#777" stroke-width="0.55" />
<line x1="40" y1="269.6" x2="41.3" y2="269.6" stroke="#777" stroke-width="0.55" />
<text transform="translate(39.1,249.6) rotate(-90)" font-size="3.2" text-anchor="middle" fill="#666">1.0</text>
<text transform="translate(39.1,256.27) rotate(-90)" font-size="3.2" text-anchor="middle" fill="#666">1.0</text>
<text transform="translate(39.1,262.93) rotate(-90)" font-size="3.2" text-anchor="middle" fill="#666">1.0</text>
<text transform="translate(39.1,269.6) rotate(-90)" font-size="3.2" text-anchor="middle" fill="#666">1.0</text>
<line x1="54.2" y1="271.2" x2="54.2" y2="272.7" stroke="#777" stroke-width="0.5" />
<line x1="71.1" y1="271.2" x2="71.1" y2="272.7" stroke="#777" stroke-width="0.5" />
<line x1="88.3" y1="271.2" x2="88.3" y2="272.7" stroke="#777" stroke-width="0.5" />
<text x="54.2" y="275.9" font-size="3.2" text-anchor="middle" fill="#666" font-weight="normal" font-style="normal" >-1000</text>
<text x="71.1" y="275.9" font-size="3.2" text-anchor="middle" fill="#666" font-weight="normal" font-style="normal" >-500</text>
<text x="88.3" y="275.9" font-size="3.2" text-anchor="middle" fill="#666" font-weight="normal" font-style="normal" >0</text>
<polygon points="51.1,269.6 51.1,252.3 54,256 57.3,262 60,261.5 63.6,261 67,257.5 71,254.4 73.5,256 76,257.8 81.5,257.5 86,259.5 90,261 94,262.5 97,258.5 101.1,256 101.1,269.6" fill="#a31616" stroke="#5a0a0a" stroke-width="0.4" />
<polygon points="51.1,269.6 51.1,256 54,259 57,263 62,263.5 67,262 71,260 76,261 82,261 88,262 94,263 101.1,262 101.1,269.6" fill="#f40c0c" stroke="none" stroke-width="0" />
<line x1="51.1" y1="263.3" x2="100.6" y2="263.3" stroke="#333" stroke-width="0.8" />
<line x1="41.3" y1="281" x2="41.3" y2="301.2" stroke="#777" stroke-width="0.6" />
<line x1="40" y1="281" x2="41.3" y2="281" stroke="#777" stroke-width="0.55" />
<line x1="40" y1="284.32" x2="41.3" y2="284.32" stroke="#777" stroke-width="0.55" />
<line x1="40" y1="287.63" x2="41.3" y2="287.63" stroke="#777" stroke-width="0.55" />
<line x1="40" y1="290.95" x2="41.3" y2="290.95" stroke="#777" stroke-width="0.55" />
<line x1="40" y1="294.27" x2="41.3" y2="294.27" stroke="#777" stroke-width="0.55" />
<line x1="40" y1="297.58" x2="41.3" y2="297.58" stroke="#777" stroke-width="0.55" />
<line x1="40" y1="300.9" x2="41.3" y2="300.9" stroke="#777" stroke-width="0.55" />
<text transform="translate(39.1,281) rotate(-90)" font-size="3.2" text-anchor="middle" fill="#666">1.0</text>
<text transform="translate(39.1,287.63) rotate(-90)" font-size="3.2" text-anchor="middle" fill="#666">1.0</text>
<text transform="translate(39.1,294.27) rotate(-90)" font-size="3.2" text-anchor="middle" fill="#666">1.0</text>
<text transform="translate(39.1,300.9) rotate(-90)" font-size="3.2" text-anchor="middle" fill="#666">1.0</text>
<line x1="54.2" y1="302.5" x2="54.2" y2="304" stroke="#777" stroke-width="0.5" />
<line x1="71.1" y1="302.5" x2="71.1" y2="304" stroke="#777" stroke-width="0.5" />
<line x1="88.3" y1="302.5" x2="88.3" y2="304" stroke="#777" stroke-width="0.5" />
<text x="54.2" y="307.8" font-size="3.2" text-anchor="middle" fill="#666" font-weight="normal" font-style="normal" >-1000</text>
<text x="71.1" y="307.8" font-size="3.2" text-anchor="middle" fill="#666" font-weight="normal" font-style="normal" >-500</text>
<text x="88.3" y="307.8" font-size="3.2" text-anchor="middle" fill="#666" font-weight="normal" font-style="normal" >0</text>
<polygon points="50.5,300.9 50.5,288.3 53.4,293.4 57.3,294.7 62.8,295.3 67.5,293.75 71.4,292.7 76.9,291.1 81.6,291.9 86.25,293.75 91.7,294.2 94,291.1 95.6,287.5 100.3,286.1 100.3,300.9" fill="#0b560b" stroke="#062e06" stroke-width="0.4" />
<polygon points="50.5,300.9 50.5,291.9 55,294.2 62.8,295.8 69.8,292.7 73.75,293.1 78.4,294.2 84.7,295 92.5,295 100.3,293.4 100.3,300.9" fill="#10f010" stroke="none" stroke-width="0" />
<line x1="51.1" y1="294.2" x2="100.6" y2="294.2" stroke="#333" stroke-width="0.8" />
<line x1="41.3" y1="314.4" x2="41.3" y2="334.1" stroke="#777" stroke-width="0.6" />
<line x1="40" y1="314.4" x2="41.3" y2="314.4" stroke="#777" stroke-width="0.55" />
<line x1="40" y1="317.63" x2="41.3" y2="317.63" stroke="#777" stroke-width="0.55" />
<line x1="40" y1="320.87" x2="41.3" y2="320.87" stroke="#777" stroke-width="0.55" />
<line x1="40" y1="324.1" x2="41.3" y2="324.1" stroke="#777" stroke-width="0.55" />
<line x1="40" y1="327.33" x2="41.3" y2="327.33" stroke="#777" stroke-width="0.55" />
<line x1="40" y1="330.57" x2="41.3" y2="330.57" stroke="#777" stroke-width="0.55" />
<line x1="40" y1="333.8" x2="41.3" y2="333.8" stroke="#777" stroke-width="0.55" />
<text transform="translate(39.1,314.4) rotate(-90)" font-size="3.2" text-anchor="middle" fill="#666">1.0</text>
<text transform="translate(39.1,320.87) rotate(-90)" font-size="3.2" text-anchor="middle" fill="#666">1.0</text>
<text transform="translate(39.1,327.33) rotate(-90)" font-size="3.2" text-anchor="middle" fill="#666">1.0</text>
<text transform="translate(39.1,333.8) rotate(-90)" font-size="3.2" text-anchor="middle" fill="#666">1.0</text>
<line x1="54.2" y1="335.4" x2="54.2" y2="336.9" stroke="#777" stroke-width="0.5" />
<line x1="71.1" y1="335.4" x2="71.1" y2="336.9" stroke="#777" stroke-width="0.5" />
<line x1="88.3" y1="335.4" x2="88.3" y2="336.9" stroke="#777" stroke-width="0.5" />
<text x="54.2" y="340.1" font-size="3.2" text-anchor="middle" fill="#666" font-weight="normal" font-style="normal" >-1000</text>
<text x="71.1" y="340.1" font-size="3.2" text-anchor="middle" fill="#666" font-weight="normal" font-style="normal" >-500</text>
<text x="88.3" y="340.1" font-size="3.2" text-anchor="middle" fill="#666" font-weight="normal" font-style="normal" >0</text>
<polygon points="50.5,333.8 50.5,316.9 55,323.1 58.9,326.25 63.6,327 67.5,323.9 71,321.9 75.3,322.8 80,321.6 85.5,318.75 89.4,321.6 92.5,325 96.4,323.9 100.3,320 100.3,333.8" fill="#a31616" stroke="#5a0a0a" stroke-width="0.4" />
<polygon points="50.5,333.8 50.5,318 55,324 59,327.5 64,328 68,325 72,323.5 76,324.5 80,323 84,322 87,324 90,326 94,325.5 100.3,322 100.3,333.8" fill="#f40c0c" stroke="none" stroke-width="0" />
<line x1="51.1" y1="325" x2="100.6" y2="325" stroke="#333" stroke-width="0.8" />
<line x1="41.3" y1="343.6" x2="41.3" y2="363.9" stroke="#777" stroke-width="0.6" />
<line x1="40" y1="343.6" x2="41.3" y2="343.6" stroke="#777" stroke-width="0.55" />
<line x1="40" y1="346.93" x2="41.3" y2="346.93" stroke="#777" stroke-width="0.55" />
<line x1="40" y1="350.27" x2="41.3" y2="350.27" stroke="#777" stroke-width="0.55" />
<line x1="40" y1="353.6" x2="41.3" y2="353.6" stroke="#777" stroke-width="0.55" />
<line x1="40" y1="356.93" x2="41.3" y2="356.93" stroke="#777" stroke-width="0.55" />
<line x1="40" y1="360.27" x2="41.3" y2="360.27" stroke="#777" stroke-width="0.55" />
<line x1="40" y1="363.6" x2="41.3" y2="363.6" stroke="#777" stroke-width="0.55" />
<text transform="translate(39.1,343.6) rotate(-90)" font-size="3.2" text-anchor="middle" fill="#666">1.0</text>
<text transform="translate(39.1,350.27) rotate(-90)" font-size="3.2" text-anchor="middle" fill="#666">1.0</text>
<text transform="translate(39.1,356.93) rotate(-90)" font-size="3.2" text-anchor="middle" fill="#666">1.0</text>
<text transform="translate(39.1,363.6) rotate(-90)" font-size="3.2" text-anchor="middle" fill="#666">1.0</text>
<line x1="54.2" y1="365.2" x2="54.2" y2="366.7" stroke="#777" stroke-width="0.5" />
<line x1="71.1" y1="365.2" x2="71.1" y2="366.7" stroke="#777" stroke-width="0.5" />
<line x1="88.3" y1="365.2" x2="88.3" y2="366.7" stroke="#777" stroke-width="0.5" />
<text x="54.2" y="369.9" font-size="3.2" text-anchor="middle" fill="#666" font-weight="normal" font-style="normal" >-1000</text>
<text x="71.1" y="369.9" font-size="3.2" text-anchor="middle" fill="#666" font-weight="normal" font-style="normal" >-500</text>
<text x="88.3" y="369.9" font-size="3.2" text-anchor="middle" fill="#666" font-weight="normal" font-style="normal" >0</text>
<polygon points="50.5,363.6 50.5,350.3 53.4,353.75 55.8,356.9 61.25,358.4 65.2,356.9 70.3,354.5 73.75,356.9 80,358.4 87,355.3 92.5,357.7 100.3,356.1 100.3,363.6" fill="#0b560b" stroke="#062e06" stroke-width="0.4" />
<polygon points="50.5,363.6 50.5,356.1 55.8,357.7 61.25,358.75 66,357.2 70.6,356.9 75.3,358.1 80,359.2 87,356.9 92.5,358.75 100.3,356.9 100.3,363.6" fill="#10f010" stroke="none" stroke-width="0" />
<line x1="51.1" y1="356.1" x2="100.6" y2="356.1" stroke="#333" stroke-width="0.8" />
<line x1="41.3" y1="376" x2="41.3" y2="396" stroke="#777" stroke-width="0.6" />
<line x1="40" y1="376" x2="41.3" y2="376" stroke="#777" stroke-width="0.55" />
<line x1="40" y1="379.28" x2="41.3" y2="379.28" stroke="#777" stroke-width="0.55" />
<line x1="40" y1="382.57" x2="41.3" y2="382.57" stroke="#777" stroke-width="0.55" />
<line x1="40" y1="385.85" x2="41.3" y2="385.85" stroke="#777" stroke-width="0.55" />
<line x1="40" y1="389.13" x2="41.3" y2="389.13" stroke="#777" stroke-width="0.55" />
<line x1="40" y1="392.42" x2="41.3" y2="392.42" stroke="#777" stroke-width="0.55" />
<line x1="40" y1="395.7" x2="41.3" y2="395.7" stroke="#777" stroke-width="0.55" />
<text transform="translate(39.1,376) rotate(-90)" font-size="3.2" text-anchor="middle" fill="#666">1.0</text>
<text transform="translate(39.1,382.57) rotate(-90)" font-size="3.2" text-anchor="middle" fill="#666">1.0</text>
<text transform="translate(39.1,389.13) rotate(-90)" font-size="3.2" text-anchor="middle" fill="#666">1.0</text>
<text transform="translate(39.1,395.7) rotate(-90)" font-size="3.2" text-anchor="middle" fill="#666">1.0</text>
<line x1="54.2" y1="397.3" x2="54.2" y2="398.8" stroke="#777" stroke-width="0.5" />
<line x1="71.1" y1="397.3" x2="71.1" y2="398.8" stroke="#777" stroke-width="0.5" />
<line x1="88.3" y1="397.3" x2="88.3" y2="398.8" stroke="#777" stroke-width="0.5" />
<text x="54.2" y="402.5" font-size="3.2" text-anchor="middle" fill="#666" font-weight="normal" font-style="normal" >-1000</text>
<text x="71.1" y="402.5" font-size="3.2" text-anchor="middle" fill="#666" font-weight="normal" font-style="normal" >-500</text>
<text x="88.3" y="402.5" font-size="3.2" text-anchor="middle" fill="#666" font-weight="normal" font-style="normal" >0</text>
<polygon points="50.5,395.7 50.5,384.2 55.8,388.9 61.25,391.25 65.2,389.4 70.6,386.25 74.5,387.3 80,385.3 84.7,388.1 90.9,390 94,389.7 100.3,386.6 100.3,395.7" fill="#a31616" stroke="#5a0a0a" stroke-width="0.4" />
<polygon points="50.5,395.7 50.5,385 55.8,389.7 61.25,391.6 67.5,389.7 73.75,389.7 81.6,388.9 89.4,389.7 94,391 100.3,388.9 100.3,395.7" fill="#f40c0c" stroke="none" stroke-width="0" />
<line x1="51.1" y1="389.7" x2="100.6" y2="389.7" stroke="#333" stroke-width="0.8" />
<line x1="41.3" y1="408.7" x2="41.3" y2="437.6" stroke="#777" stroke-width="0.6" />
<line x1="40" y1="408.7" x2="41.3" y2="408.7" stroke="#777" stroke-width="0.55" />
<line x1="40" y1="413.47" x2="41.3" y2="413.47" stroke="#777" stroke-width="0.55" />
<line x1="40" y1="418.23" x2="41.3" y2="418.23" stroke="#777" stroke-width="0.55" />
<line x1="40" y1="423" x2="41.3" y2="423" stroke="#777" stroke-width="0.55" />
<line x1="40" y1="427.77" x2="41.3" y2="427.77" stroke="#777" stroke-width="0.55" />
<line x1="40" y1="432.53" x2="41.3" y2="432.53" stroke="#777" stroke-width="0.55" />
<line x1="40" y1="437.3" x2="41.3" y2="437.3" stroke="#777" stroke-width="0.55" />
<text transform="translate(39.1,408.7) rotate(-90)" font-size="3.2" text-anchor="middle" fill="#666">1.0</text>
<text transform="translate(39.1,418.23) rotate(-90)" font-size="3.2" text-anchor="middle" fill="#666">1.0</text>
<text transform="translate(39.1,427.77) rotate(-90)" font-size="3.2" text-anchor="middle" fill="#666">1.0</text>
<text transform="translate(39.1,437.3) rotate(-90)" font-size="3.2" text-anchor="middle" fill="#666">1.0</text>
<line x1="54.2" y1="438.9" x2="54.2" y2="440.4" stroke="#777" stroke-width="0.5" />
<line x1="71.1" y1="438.9" x2="71.1" y2="440.4" stroke="#777" stroke-width="0.5" />
<line x1="88.3" y1="438.9" x2="88.3" y2="440.4" stroke="#777" stroke-width="0.5" />
<text x="54.2" y="443.9" font-size="3.2" text-anchor="middle" fill="#666" font-weight="normal" font-style="normal" >-1000</text>
<text x="71.1" y="443.9" font-size="3.2" text-anchor="middle" fill="#666" font-weight="normal" font-style="normal" >-500</text>
<text x="88.3" y="443.9" font-size="3.2" text-anchor="middle" fill="#666" font-weight="normal" font-style="normal" >0</text>
<polygon points="51.4,437.3 51.4,411.4 56.6,423.9 62,418 67.5,412.2 71,410.6 73.5,413.5 76.9,419.2 80,420 85.5,422.3 88.6,425.5 93.3,428.6 97.2,424.7 100.3,420 100.3,437.3" fill="#bebebe" stroke="none" stroke-width="0" />
<line x1="51.1" y1="425.2" x2="100.6" y2="425.2" stroke="#3a3a3a" stroke-width="1.1" />
<line x1="41.3" y1="450.5" x2="41.3" y2="478.9" stroke="#777" stroke-width="0.6" />
<line x1="40" y1="450.5" x2="41.3" y2="450.5" stroke="#777" stroke-width="0.55" />
<line x1="40" y1="455.18" x2="41.3" y2="455.18" stroke="#777" stroke-width="0.55" />
<line x1="40" y1="459.87" x2="41.3" y2="459.87" stroke="#777" stroke-width="0.55" />
<line x1="40" y1="464.55" x2="41.3" y2="464.55" stroke="#777" stroke-width="0.55" />
<line x1="40" y1="469.23" x2="41.3" y2="469.23" stroke="#777" stroke-width="0.55" />
<line x1="40" y1="473.92" x2="41.3" y2="473.92" stroke="#777" stroke-width="0.55" />
<line x1="40" y1="478.6" x2="41.3" y2="478.6" stroke="#777" stroke-width="0.55" />
<text transform="translate(39.1,450.5) rotate(-90)" font-size="3.2" text-anchor="middle" fill="#666">1.0</text>
<text transform="translate(39.1,459.87) rotate(-90)" font-size="3.2" text-anchor="middle" fill="#666">1.0</text>
<text transform="translate(39.1,469.23) rotate(-90)" font-size="3.2" text-anchor="middle" fill="#666">1.0</text>
<text transform="translate(39.1,478.6) rotate(-90)" font-size="3.2" text-anchor="middle" fill="#666">1.0</text>
<line x1="54.2" y1="480.2" x2="54.2" y2="481.7" stroke="#777" stroke-width="0.5" />
<line x1="71.1" y1="480.2" x2="71.1" y2="481.7" stroke="#777" stroke-width="0.5" />
<line x1="88.3" y1="480.2" x2="88.3" y2="481.7" stroke="#777" stroke-width="0.5" />
<text x="54.2" y="486.1" font-size="3.2" text-anchor="middle" fill="#666" font-weight="normal" font-style="normal" >-1000</text>
<text x="71.1" y="486.1" font-size="3.2" text-anchor="middle" fill="#666" font-weight="normal" font-style="normal" >-500</text>
<text x="88.3" y="486.1" font-size="3.2" text-anchor="middle" fill="#666" font-weight="normal" font-style="normal" >0</text>
<polygon points="51.5,478.6 51.5,453.5 53,462.3 57.7,467.7 60.8,468.5 64,467.5 68.5,467 71.5,468 74.6,470 78.5,465.4 81.5,460.8 84,463.5 87,465.4 90,467 93,466 96,464.6 100.5,458.5 100.5,478.6" fill="#bebebe" stroke="none" stroke-width="0" />
<line x1="51.1" y1="462" x2="100.6" y2="462" stroke="#3a3a3a" stroke-width="1.1" />
<line x1="111.8" y1="217.5" x2="111.8" y2="237.6" stroke="#777" stroke-width="0.6" />
<line x1="110.5" y1="217.5" x2="111.8" y2="217.5" stroke="#777" stroke-width="0.55" />
<line x1="110.5" y1="220.8" x2="111.8" y2="220.8" stroke="#777" stroke-width="0.55" />
<line x1="110.5" y1="224.1" x2="111.8" y2="224.1" stroke="#777" stroke-width="0.55" />
<line x1="110.5" y1="227.4" x2="111.8" y2="227.4" stroke="#777" stroke-width="0.55" />
<line x1="110.5" y1="230.7" x2="111.8" y2="230.7" stroke="#777" stroke-width="0.55" />
<line x1="110.5" y1="234" x2="111.8" y2="234" stroke="#777" stroke-width="0.55" />
<line x1="110.5" y1="237.3" x2="111.8" y2="237.3" stroke="#777" stroke-width="0.55" />
<text transform="translate(109.6,217.5) rotate(-90)" font-size="3.2" text-anchor="middle" fill="#666">1.0</text>
<text transform="translate(109.6,224.1) rotate(-90)" font-size="3.2" text-anchor="middle" fill="#666">1.0</text>
<text transform="translate(109.6,230.7) rotate(-90)" font-size="3.2" text-anchor="middle" fill="#666">1.0</text>
<text transform="translate(109.6,237.3) rotate(-90)" font-size="3.2" text-anchor="middle" fill="#666">1.0</text>
<line x1="125" y1="238.9" x2="125" y2="240.4" stroke="#777" stroke-width="0.5" />
<line x1="142.2" y1="238.9" x2="142.2" y2="240.4" stroke="#777" stroke-width="0.5" />
<line x1="159" y1="238.9" x2="159" y2="240.4" stroke="#777" stroke-width="0.5" />
<text x="125" y="243.7" font-size="3.2" text-anchor="middle" fill="#666" font-weight="normal" font-style="normal" >-1000</text>
<text x="142.2" y="243.7" font-size="3.2" text-anchor="middle" fill="#666" font-weight="normal" font-style="normal" >-500</text>
<text x="159" y="243.7" font-size="3.2" text-anchor="middle" fill="#666" font-weight="normal" font-style="normal" >0</text>
<polygon points="120.3,237.3 120.3,233.6 123.75,221.1 128,225 132,228.9 135.2,225.8 138,229 141.4,232 148.4,230.5 154,232 158,234 161,235 163.75,234.4 163.75,237.3" fill="#0b560b" stroke="#062e06" stroke-width="0.4" />
<polygon points="120.3,237.3 120.3,231 123.5,224 128,227 132,230 135,229 141.4,232.8 148,233.5 154,234 158,234.8 163.75,235 163.75,237.3" fill="#10f010" stroke="none" stroke-width="0" />
<line x1="120.3" y1="235.2" x2="163.7" y2="235.2" stroke="#333" stroke-width="0.8" />
<line x1="111.8" y1="249.6" x2="111.8" y2="269.9" stroke="#777" stroke-width="0.6" />
<line x1="110.5" y1="249.6" x2="111.8" y2="249.6" stroke="#777" stroke-width="0.55" />
<line x1="110.5" y1="252.93" x2="111.8" y2="252.93" stroke="#777" stroke-width="0.55" />
<line x1="110.5" y1="256.27" x2="111.8" y2="256.27" stroke="#777" stroke-width="0.55" />
<line x1="110.5" y1="259.6" x2="111.8" y2="259.6" stroke="#777" stroke-width="0.55" />
<line x1="110.5" y1="262.93" x2="111.8" y2="262.93" stroke="#777" stroke-width="0.55" />
<line x1="110.5" y1="266.27" x2="111.8" y2="266.27" stroke="#777" stroke-width="0.55" />
<line x1="110.5" y1="269.6" x2="111.8" y2="269.6" stroke="#777" stroke-width="0.55" />
<text transform="translate(109.6,249.6) rotate(-90)" font-size="3.2" text-anchor="middle" fill="#666">1.0</text>
<text transform="translate(109.6,256.27) rotate(-90)" font-size="3.2" text-anchor="middle" fill="#666">1.0</text>
<text transform="translate(109.6,262.93) rotate(-90)" font-size="3.2" text-anchor="middle" fill="#666">1.0</text>
<text transform="translate(109.6,269.6) rotate(-90)" font-size="3.2" text-anchor="middle" fill="#666">1.0</text>
<line x1="125" y1="271.2" x2="125" y2="272.7" stroke="#777" stroke-width="0.5" />
<line x1="142.2" y1="271.2" x2="142.2" y2="272.7" stroke="#777" stroke-width="0.5" />
<line x1="159" y1="271.2" x2="159" y2="272.7" stroke="#777" stroke-width="0.5" />
<text x="125" y="275.9" font-size="3.2" text-anchor="middle" fill="#666" font-weight="normal" font-style="normal" >-1000</text>
<text x="142.2" y="275.9" font-size="3.2" text-anchor="middle" fill="#666" font-weight="normal" font-style="normal" >-500</text>
<text x="159" y="275.9" font-size="3.2" text-anchor="middle" fill="#666" font-weight="normal" font-style="normal" >0</text>
<polygon points="120.3,269.6 120.3,261 124.2,250 127.3,252.3 131.25,258.6 136,253.9 141.4,256.25 148.4,257.8 154,261.7 159.4,265.6 163.75,264 163.75,269.6" fill="#a31616" stroke="#5a0a0a" stroke-width="0.4" />
<polygon points="120.3,269.6 120.3,258 122,254.5 125,256.5 128,261 132,264.5 136,264.5 141,265.5 148,266 154,266.5 159,267 163.75,267 163.75,269.6" fill="#f40c0c" stroke="none" stroke-width="0" />
<line x1="120.3" y1="267.5" x2="163.7" y2="267.5" stroke="#333" stroke-width="0.8" />
<line x1="111.8" y1="281" x2="111.8" y2="301.2" stroke="#777" stroke-width="0.6" />
<line x1="110.5" y1="281" x2="111.8" y2="281" stroke="#777" stroke-width="0.55" />
<line x1="110.5" y1="284.32" x2="111.8" y2="284.32" stroke="#777" stroke-width="0.55" />
<line x1="110.5" y1="287.63" x2="111.8" y2="287.63" stroke="#777" stroke-width="0.55" />
<line x1="110.5" y1="290.95" x2="111.8" y2="290.95" stroke="#777" stroke-width="0.55" />
<line x1="110.5" y1="294.27" x2="111.8" y2="294.27" stroke="#777" stroke-width="0.55" />
<line x1="110.5" y1="297.58" x2="111.8" y2="297.58" stroke="#777" stroke-width="0.55" />
<line x1="110.5" y1="300.9" x2="111.8" y2="300.9" stroke="#777" stroke-width="0.55" />
<text transform="translate(109.6,281) rotate(-90)" font-size="3.2" text-anchor="middle" fill="#666">1.0</text>
<text transform="translate(109.6,287.63) rotate(-90)" font-size="3.2" text-anchor="middle" fill="#666">1.0</text>
<text transform="translate(109.6,294.27) rotate(-90)" font-size="3.2" text-anchor="middle" fill="#666">1.0</text>
<text transform="translate(109.6,300.9) rotate(-90)" font-size="3.2" text-anchor="middle" fill="#666">1.0</text>
<line x1="125" y1="302.5" x2="125" y2="304" stroke="#777" stroke-width="0.5" />
<line x1="142.2" y1="302.5" x2="142.2" y2="304" stroke="#777" stroke-width="0.5" />
<line x1="159" y1="302.5" x2="159" y2="304" stroke="#777" stroke-width="0.5" />
<text x="125" y="307.8" font-size="3.2" text-anchor="middle" fill="#666" font-weight="normal" font-style="normal" >-1000</text>
<text x="142.2" y="307.8" font-size="3.2" text-anchor="middle" fill="#666" font-weight="normal" font-style="normal" >-500</text>
<text x="159" y="307.8" font-size="3.2" text-anchor="middle" fill="#666" font-weight="normal" font-style="normal" >0</text>
<polygon points="120.3,300.9 120.3,298.5 124,295 130,296 136,296 141,296.3 146,296 151,296.3 155,298 163.75,299.5 163.75,300.9" fill="#0b560b" stroke="#062e06" stroke-width="0.4" />
<polygon points="120.3,300.9 120.3,297.3 123.4,292.7 128,293.4 131.25,295 136,294.2 140.6,296.8 146,297.1 151,297.4 159.4,298.9 163.75,298.9 163.75,300.9" fill="#10f010" stroke="none" stroke-width="0" />
<line x1="120.3" y1="299.7" x2="163.7" y2="299.7" stroke="#333" stroke-width="0.8" />
<line x1="111.8" y1="314.4" x2="111.8" y2="334.1" stroke="#777" stroke-width="0.6" />
<line x1="110.5" y1="314.4" x2="111.8" y2="314.4" stroke="#777" stroke-width="0.55" />
<line x1="110.5" y1="317.63" x2="111.8" y2="317.63" stroke="#777" stroke-width="0.55" />
<line x1="110.5" y1="320.87" x2="111.8" y2="320.87" stroke="#777" stroke-width="0.55" />
<line x1="110.5" y1="324.1" x2="111.8" y2="324.1" stroke="#777" stroke-width="0.55" />
<line x1="110.5" y1="327.33" x2="111.8" y2="327.33" stroke="#777" stroke-width="0.55" />
<line x1="110.5" y1="330.57" x2="111.8" y2="330.57" stroke="#777" stroke-width="0.55" />
<line x1="110.5" y1="333.8" x2="111.8" y2="333.8" stroke="#777" stroke-width="0.55" />
<text transform="translate(109.6,314.4) rotate(-90)" font-size="3.2" text-anchor="middle" fill="#666">1.0</text>
<text transform="translate(109.6,320.87) rotate(-90)" font-size="3.2" text-anchor="middle" fill="#666">1.0</text>
<text transform="translate(109.6,327.33) rotate(-90)" font-size="3.2" text-anchor="middle" fill="#666">1.0</text>
<text transform="translate(109.6,333.8) rotate(-90)" font-size="3.2" text-anchor="middle" fill="#666">1.0</text>
<line x1="125" y1="335.4" x2="125" y2="336.9" stroke="#777" stroke-width="0.5" />
<line x1="142.2" y1="335.4" x2="142.2" y2="336.9" stroke="#777" stroke-width="0.5" />
<line x1="159" y1="335.4" x2="159" y2="336.9" stroke="#777" stroke-width="0.5" />
<text x="125" y="340.1" font-size="3.2" text-anchor="middle" fill="#666" font-weight="normal" font-style="normal" >-1000</text>
<text x="142.2" y="340.1" font-size="3.2" text-anchor="middle" fill="#666" font-weight="normal" font-style="normal" >-500</text>
<text x="159" y="340.1" font-size="3.2" text-anchor="middle" fill="#666" font-weight="normal" font-style="normal" >0</text>
<polygon points="120.3,333.8 120.3,328 124.2,318 127.3,319 130.5,322.5 133,320.5 136,319.3 139,321.5 141.4,324.3 150,324.5 154.7,328 160.2,331 163.75,330 163.75,333.8" fill="#a31616" stroke="#5a0a0a" stroke-width="0.4" />
<polygon points="120.3,333.8 120.3,326.25 124.2,315.6 127.3,316.9 130.5,321.6 136,320.8 141.4,323.9 150,323.9 154.7,327.8 160.2,331.7 163.75,330.2 163.75,333.8" fill="#f40c0c" stroke="none" stroke-width="0" />
<line x1="120.3" y1="331.9" x2="163.7" y2="331.9" stroke="#333" stroke-width="0.8" />
<line x1="111.8" y1="343.6" x2="111.8" y2="363.9" stroke="#777" stroke-width="0.6" />
<line x1="110.5" y1="343.6" x2="111.8" y2="343.6" stroke="#777" stroke-width="0.55" />
<line x1="110.5" y1="346.93" x2="111.8" y2="346.93" stroke="#777" stroke-width="0.55" />
<line x1="110.5" y1="350.27" x2="111.8" y2="350.27" stroke="#777" stroke-width="0.55" />
<line x1="110.5" y1="353.6" x2="111.8" y2="353.6" stroke="#777" stroke-width="0.55" />
<line x1="110.5" y1="356.93" x2="111.8" y2="356.93" stroke="#777" stroke-width="0.55" />
<line x1="110.5" y1="360.27" x2="111.8" y2="360.27" stroke="#777" stroke-width="0.55" />
<line x1="110.5" y1="363.6" x2="111.8" y2="363.6" stroke="#777" stroke-width="0.55" />
<text transform="translate(109.6,343.6) rotate(-90)" font-size="3.2" text-anchor="middle" fill="#666">1.0</text>
<text transform="translate(109.6,350.27) rotate(-90)" font-size="3.2" text-anchor="middle" fill="#666">1.0</text>
<text transform="translate(109.6,356.93) rotate(-90)" font-size="3.2" text-anchor="middle" fill="#666">1.0</text>
<text transform="translate(109.6,363.6) rotate(-90)" font-size="3.2" text-anchor="middle" fill="#666">1.0</text>
<line x1="125" y1="365.2" x2="125" y2="366.7" stroke="#777" stroke-width="0.5" />
<line x1="142.2" y1="365.2" x2="142.2" y2="366.7" stroke="#777" stroke-width="0.5" />
<line x1="159" y1="365.2" x2="159" y2="366.7" stroke="#777" stroke-width="0.5" />
<text x="125" y="369.9" font-size="3.2" text-anchor="middle" fill="#666" font-weight="normal" font-style="normal" >-1000</text>
<text x="142.2" y="369.9" font-size="3.2" text-anchor="middle" fill="#666" font-weight="normal" font-style="normal" >-500</text>
<text x="159" y="369.9" font-size="3.2" text-anchor="middle" fill="#666" font-weight="normal" font-style="normal" >0</text>
<polygon points="120.3,363.6 120.3,360.8 123.4,353.75 126.6,351.4 132.8,355.3 136.25,354 141.4,357.7 151.6,359.2 157.8,360.8 163.75,361.6 163.75,363.6" fill="#0b560b" stroke="#062e06" stroke-width="0.4" />
<polygon points="120.3,363.6 120.3,361 124,356.5 127,355.3 132,357.7 136.25,356 141.4,359.2 151.6,360.8 157.8,361.6 163.75,362.3 163.75,363.6" fill="#10f010" stroke="none" stroke-width="0" />
<line x1="120.3" y1="362.6" x2="163.7" y2="362.6" stroke="#333" stroke-width="0.8" />
<line x1="111.8" y1="376" x2="111.8" y2="396" stroke="#777" stroke-width="0.6" />
<line x1="110.5" y1="376" x2="111.8" y2="376" stroke="#777" stroke-width="0.55" />
<line x1="110.5" y1="379.28" x2="111.8" y2="379.28" stroke="#777" stroke-width="0.55" />
<line x1="110.5" y1="382.57" x2="111.8" y2="382.57" stroke="#777" stroke-width="0.55" />
<line x1="110.5" y1="385.85" x2="111.8" y2="385.85" stroke="#777" stroke-width="0.55" />
<line x1="110.5" y1="389.13" x2="111.8" y2="389.13" stroke="#777" stroke-width="0.55" />
<line x1="110.5" y1="392.42" x2="111.8" y2="392.42" stroke="#777" stroke-width="0.55" />
<line x1="110.5" y1="395.7" x2="111.8" y2="395.7" stroke="#777" stroke-width="0.55" />
<text transform="translate(109.6,376) rotate(-90)" font-size="3.2" text-anchor="middle" fill="#666">1.0</text>
<text transform="translate(109.6,382.57) rotate(-90)" font-size="3.2" text-anchor="middle" fill="#666">1.0</text>
<text transform="translate(109.6,389.13) rotate(-90)" font-size="3.2" text-anchor="middle" fill="#666">1.0</text>
<text transform="translate(109.6,395.7) rotate(-90)" font-size="3.2" text-anchor="middle" fill="#666">1.0</text>
<line x1="125" y1="397.3" x2="125" y2="398.8" stroke="#777" stroke-width="0.5" />
<line x1="142.2" y1="397.3" x2="142.2" y2="398.8" stroke="#777" stroke-width="0.5" />
<line x1="159" y1="397.3" x2="159" y2="398.8" stroke="#777" stroke-width="0.5" />
<text x="125" y="402.5" font-size="3.2" text-anchor="middle" fill="#666" font-weight="normal" font-style="normal" >-1000</text>
<text x="142.2" y="402.5" font-size="3.2" text-anchor="middle" fill="#666" font-weight="normal" font-style="normal" >-500</text>
<text x="159" y="402.5" font-size="3.2" text-anchor="middle" fill="#666" font-weight="normal" font-style="normal" >0</text>
<polygon points="120.3,395.7 120.3,388 125,379.5 128,381 132,386.6 136.25,381.6 140.6,384.7 146.9,386.25 150,387.3 154.7,389.7 159.4,392 163.75,392 163.75,395.7" fill="#a31616" stroke="#5a0a0a" stroke-width="0.4" />
<polygon points="120.3,395.7 120.3,388.5 125,385.5 128,386.5 132,389 136,387.8 141,389.5 147,390 150,390.5 155,392 159.4,393.5 163.75,393.5 163.75,395.7" fill="#f40c0c" stroke="none" stroke-width="0" />
<line x1="120.3" y1="393.6" x2="163.7" y2="393.6" stroke="#333" stroke-width="0.8" />
<line x1="111.8" y1="408.7" x2="111.8" y2="437.6" stroke="#777" stroke-width="0.6" />
<line x1="110.5" y1="408.7" x2="111.8" y2="408.7" stroke="#777" stroke-width="0.55" />
<line x1="110.5" y1="413.47" x2="111.8" y2="413.47" stroke="#777" stroke-width="0.55" />
<line x1="110.5" y1="418.23" x2="111.8" y2="418.23" stroke="#777" stroke-width="0.55" />
<line x1="110.5" y1="423" x2="111.8" y2="423" stroke="#777" stroke-width="0.55" />
<line x1="110.5" y1="427.77" x2="111.8" y2="427.77" stroke="#777" stroke-width="0.55" />
<line x1="110.5" y1="432.53" x2="111.8" y2="432.53" stroke="#777" stroke-width="0.55" />
<line x1="110.5" y1="437.3" x2="111.8" y2="437.3" stroke="#777" stroke-width="0.55" />
<text transform="translate(109.6,408.7) rotate(-90)" font-size="3.2" text-anchor="middle" fill="#666">1.0</text>
<text transform="translate(109.6,418.23) rotate(-90)" font-size="3.2" text-anchor="middle" fill="#666">1.0</text>
<text transform="translate(109.6,427.77) rotate(-90)" font-size="3.2" text-anchor="middle" fill="#666">1.0</text>
<text transform="translate(109.6,437.3) rotate(-90)" font-size="3.2" text-anchor="middle" fill="#666">1.0</text>
<line x1="125" y1="438.9" x2="125" y2="440.4" stroke="#777" stroke-width="0.5" />
<line x1="142.2" y1="438.9" x2="142.2" y2="440.4" stroke="#777" stroke-width="0.5" />
<line x1="159" y1="438.9" x2="159" y2="440.4" stroke="#777" stroke-width="0.5" />
<text x="125" y="443.9" font-size="3.2" text-anchor="middle" fill="#666" font-weight="normal" font-style="normal" >-1000</text>
<text x="142.2" y="443.9" font-size="3.2" text-anchor="middle" fill="#666" font-weight="normal" font-style="normal" >-500</text>
<text x="159" y="443.9" font-size="3.2" text-anchor="middle" fill="#666" font-weight="normal" font-style="normal" >0</text>
<polygon points="120.8,437.3 120.8,428.6 123.4,420.8 126.9,419.2 130.5,422.3 134.4,423.9 137.5,416.9 141.4,410.6 145.3,416 150,422.3 154,427 157.8,431 163.3,432.5 163.3,437.3" fill="#bebebe" stroke="none" stroke-width="0" />
<line x1="120.3" y1="431.25" x2="163.7" y2="431.25" stroke="#3a3a3a" stroke-width="1.1" />
<line x1="111.8" y1="450.5" x2="111.8" y2="478.9" stroke="#777" stroke-width="0.6" />
<line x1="110.5" y1="450.5" x2="111.8" y2="450.5" stroke="#777" stroke-width="0.55" />
<line x1="110.5" y1="455.18" x2="111.8" y2="455.18" stroke="#777" stroke-width="0.55" />
<line x1="110.5" y1="459.87" x2="111.8" y2="459.87" stroke="#777" stroke-width="0.55" />
<line x1="110.5" y1="464.55" x2="111.8" y2="464.55" stroke="#777" stroke-width="0.55" />
<line x1="110.5" y1="469.23" x2="111.8" y2="469.23" stroke="#777" stroke-width="0.55" />
<line x1="110.5" y1="473.92" x2="111.8" y2="473.92" stroke="#777" stroke-width="0.55" />
<line x1="110.5" y1="478.6" x2="111.8" y2="478.6" stroke="#777" stroke-width="0.55" />
<text transform="translate(109.6,450.5) rotate(-90)" font-size="3.2" text-anchor="middle" fill="#666">1.0</text>
<text transform="translate(109.6,459.87) rotate(-90)" font-size="3.2" text-anchor="middle" fill="#666">1.0</text>
<text transform="translate(109.6,469.23) rotate(-90)" font-size="3.2" text-anchor="middle" fill="#666">1.0</text>
<text transform="translate(109.6,478.6) rotate(-90)" font-size="3.2" text-anchor="middle" fill="#666">1.0</text>
<line x1="125" y1="480.2" x2="125" y2="481.7" stroke="#777" stroke-width="0.5" />
<line x1="142.2" y1="480.2" x2="142.2" y2="481.7" stroke="#777" stroke-width="0.5" />
<line x1="159" y1="480.2" x2="159" y2="481.7" stroke="#777" stroke-width="0.5" />
<text x="125" y="486.1" font-size="3.2" text-anchor="middle" fill="#666" font-weight="normal" font-style="normal" >-1000</text>
<text x="142.2" y="486.1" font-size="3.2" text-anchor="middle" fill="#666" font-weight="normal" font-style="normal" >-500</text>
<text x="159" y="486.1" font-size="3.2" text-anchor="middle" fill="#666" font-weight="normal" font-style="normal" >0</text>
<polygon points="120.8,478.6 120.8,467.7 123.8,455.4 127.4,453.5 130.8,463 133,466 137,463 140.8,460 145.4,463.8 149,467.7 153,470 156,470.8 160,473 163.5,473 163.5,478.6" fill="#bebebe" stroke="none" stroke-width="0" />
<line x1="120.3" y1="467.4" x2="163.7" y2="467.4" stroke="#3a3a3a" stroke-width="1.1" />
<line x1="183.4" y1="217.5" x2="183.4" y2="237.6" stroke="#777" stroke-width="0.6" />
<line x1="182.1" y1="217.5" x2="183.4" y2="217.5" stroke="#777" stroke-width="0.55" />
<line x1="182.1" y1="220.8" x2="183.4" y2="220.8" stroke="#777" stroke-width="0.55" />
<line x1="182.1" y1="224.1" x2="183.4" y2="224.1" stroke="#777" stroke-width="0.55" />
<line x1="182.1" y1="227.4" x2="183.4" y2="227.4" stroke="#777" stroke-width="0.55" />
<line x1="182.1" y1="230.7" x2="183.4" y2="230.7" stroke="#777" stroke-width="0.55" />
<line x1="182.1" y1="234" x2="183.4" y2="234" stroke="#777" stroke-width="0.55" />
<line x1="182.1" y1="237.3" x2="183.4" y2="237.3" stroke="#777" stroke-width="0.55" />
<text transform="translate(181.2,217.5) rotate(-90)" font-size="3.2" text-anchor="middle" fill="#666">1.0</text>
<text transform="translate(181.2,224.1) rotate(-90)" font-size="3.2" text-anchor="middle" fill="#666">1.0</text>
<text transform="translate(181.2,230.7) rotate(-90)" font-size="3.2" text-anchor="middle" fill="#666">1.0</text>
<text transform="translate(181.2,237.3) rotate(-90)" font-size="3.2" text-anchor="middle" fill="#666">1.0</text>
<line x1="194.2" y1="238.9" x2="194.2" y2="240.4" stroke="#777" stroke-width="0.5" />
<line x1="212.5" y1="238.9" x2="212.5" y2="240.4" stroke="#777" stroke-width="0.5" />
<line x1="230.2" y1="238.9" x2="230.2" y2="240.4" stroke="#777" stroke-width="0.5" />
<text x="194.2" y="243.7" font-size="3.2" text-anchor="middle" fill="#666" font-weight="normal" font-style="normal" >-1000</text>
<text x="212.5" y="243.7" font-size="3.2" text-anchor="middle" fill="#666" font-weight="normal" font-style="normal" >-500</text>
<text x="230.2" y="243.7" font-size="3.2" text-anchor="middle" fill="#666" font-weight="normal" font-style="normal" >0</text>
<polygon points="188.3,237.5 188.3,233.6 191.9,233.1 195,234.7 201.25,235.2 217,235.3 226.25,235 230,233.6 234,234.4 236.8,235.2 236.8,237.5" fill="#10f010" stroke="none" stroke-width="0" />
<polyline points="191.9,235.52 195,236.24 201.25,236.47 217,236.51 226.25,236.38 230,235.75 234,236.1" fill="none" stroke="#0b560b" stroke-width="0.8"  stroke-linejoin="round" />
<line x1="188.3" y1="229.7" x2="236.8" y2="229.7" stroke="#6a6a6a" stroke-width="1.0" />
<text x="199.7" y="228.1" font-size="7" text-anchor="start" fill="#2a9a2a" font-weight="bold" font-style="normal"  stroke="#2a9a2a" stroke-width="0.22">Untreated</text>
<line x1="183.4" y1="249.6" x2="183.4" y2="269.9" stroke="#777" stroke-width="0.6" />
<line x1="182.1" y1="249.6" x2="183.4" y2="249.6" stroke="#777" stroke-width="0.55" />
<line x1="182.1" y1="252.93" x2="183.4" y2="252.93" stroke="#777" stroke-width="0.55" />
<line x1="182.1" y1="256.27" x2="183.4" y2="256.27" stroke="#777" stroke-width="0.55" />
<line x1="182.1" y1="259.6" x2="183.4" y2="259.6" stroke="#777" stroke-width="0.55" />
<line x1="182.1" y1="262.93" x2="183.4" y2="262.93" stroke="#777" stroke-width="0.55" />
<line x1="182.1" y1="266.27" x2="183.4" y2="266.27" stroke="#777" stroke-width="0.55" />
<line x1="182.1" y1="269.6" x2="183.4" y2="269.6" stroke="#777" stroke-width="0.55" />
<text transform="translate(181.2,249.6) rotate(-90)" font-size="3.2" text-anchor="middle" fill="#666">1.0</text>
<text transform="translate(181.2,256.27) rotate(-90)" font-size="3.2" text-anchor="middle" fill="#666">1.0</text>
<text transform="translate(181.2,262.93) rotate(-90)" font-size="3.2" text-anchor="middle" fill="#666">1.0</text>
<text transform="translate(181.2,269.6) rotate(-90)" font-size="3.2" text-anchor="middle" fill="#666">1.0</text>
<line x1="194.2" y1="271.2" x2="194.2" y2="272.7" stroke="#777" stroke-width="0.5" />
<line x1="212.5" y1="271.2" x2="212.5" y2="272.7" stroke="#777" stroke-width="0.5" />
<line x1="230.2" y1="271.2" x2="230.2" y2="272.7" stroke="#777" stroke-width="0.5" />
<text x="194.2" y="275.9" font-size="3.2" text-anchor="middle" fill="#666" font-weight="normal" font-style="normal" >-1000</text>
<text x="212.5" y="275.9" font-size="3.2" text-anchor="middle" fill="#666" font-weight="normal" font-style="normal" >-500</text>
<text x="230.2" y="275.9" font-size="3.2" text-anchor="middle" fill="#666" font-weight="normal" font-style="normal" >0</text>
<polygon points="188.3,270 188.3,267.5 195,267 201.25,266.4 206,266.2 217,267.2 226,268.2 232.5,267.5 236.8,267.8 236.8,270" fill="#f40c0c" stroke="none" stroke-width="0" />
<polyline points="195,268.65 201.25,268.38 206,268.29 217,268.74 226,269.19 232.5,268.88" fill="none" stroke="#8a0f0f" stroke-width="0.7"  stroke-linejoin="round" />
<line x1="188.3" y1="263.3" x2="236.8" y2="263.3" stroke="#6a6a6a" stroke-width="1.0" />
<text x="198.2" y="262.5" font-size="7" text-anchor="start" fill="#9a1c24" font-weight="bold" font-style="normal"  stroke="#9a1c24" stroke-width="0.22">STI571</text>
<line x1="183.4" y1="281" x2="183.4" y2="301.2" stroke="#777" stroke-width="0.6" />
<line x1="182.1" y1="281" x2="183.4" y2="281" stroke="#777" stroke-width="0.55" />
<line x1="182.1" y1="284.32" x2="183.4" y2="284.32" stroke="#777" stroke-width="0.55" />
<line x1="182.1" y1="287.63" x2="183.4" y2="287.63" stroke="#777" stroke-width="0.55" />
<line x1="182.1" y1="290.95" x2="183.4" y2="290.95" stroke="#777" stroke-width="0.55" />
<line x1="182.1" y1="294.27" x2="183.4" y2="294.27" stroke="#777" stroke-width="0.55" />
<line x1="182.1" y1="297.58" x2="183.4" y2="297.58" stroke="#777" stroke-width="0.55" />
<line x1="182.1" y1="300.9" x2="183.4" y2="300.9" stroke="#777" stroke-width="0.55" />
<text transform="translate(181.2,281) rotate(-90)" font-size="3.2" text-anchor="middle" fill="#666">1.0</text>
<text transform="translate(181.2,287.63) rotate(-90)" font-size="3.2" text-anchor="middle" fill="#666">1.0</text>
<text transform="translate(181.2,294.27) rotate(-90)" font-size="3.2" text-anchor="middle" fill="#666">1.0</text>
<text transform="translate(181.2,300.9) rotate(-90)" font-size="3.2" text-anchor="middle" fill="#666">1.0</text>
<line x1="194.2" y1="302.5" x2="194.2" y2="304" stroke="#777" stroke-width="0.5" />
<line x1="212.5" y1="302.5" x2="212.5" y2="304" stroke="#777" stroke-width="0.5" />
<line x1="230.2" y1="302.5" x2="230.2" y2="304" stroke="#777" stroke-width="0.5" />
<text x="194.2" y="307.8" font-size="3.2" text-anchor="middle" fill="#666" font-weight="normal" font-style="normal" >-1000</text>
<text x="212.5" y="307.8" font-size="3.2" text-anchor="middle" fill="#666" font-weight="normal" font-style="normal" >-500</text>
<text x="230.2" y="307.8" font-size="3.2" text-anchor="middle" fill="#666" font-weight="normal" font-style="normal" >0</text>
<polygon points="188.3,301.2 188.3,299.6 200,299.9 215,299.8 230,299.6 236.8,299.5 236.8,301.2" fill="#10f010" stroke="none" stroke-width="0" />
<polyline points="200,300.62 215,300.57 230,300.48" fill="none" stroke="#0b560b" stroke-width="0.8"  stroke-linejoin="round" />
<line x1="188.3" y1="293.75" x2="236.8" y2="293.75" stroke="#6a6a6a" stroke-width="1.0" />
<text x="199.7" y="293.3" font-size="7" text-anchor="start" fill="#2a9a2a" font-weight="bold" font-style="normal"  stroke="#2a9a2a" stroke-width="0.22">Untreated</text>
<line x1="183.4" y1="314.4" x2="183.4" y2="334.1" stroke="#777" stroke-width="0.6" />
<line x1="182.1" y1="314.4" x2="183.4" y2="314.4" stroke="#777" stroke-width="0.55" />
<line x1="182.1" y1="317.63" x2="183.4" y2="317.63" stroke="#777" stroke-width="0.55" />
<line x1="182.1" y1="320.87" x2="183.4" y2="320.87" stroke="#777" stroke-width="0.55" />
<line x1="182.1" y1="324.1" x2="183.4" y2="324.1" stroke="#777" stroke-width="0.55" />
<line x1="182.1" y1="327.33" x2="183.4" y2="327.33" stroke="#777" stroke-width="0.55" />
<line x1="182.1" y1="330.57" x2="183.4" y2="330.57" stroke="#777" stroke-width="0.55" />
<line x1="182.1" y1="333.8" x2="183.4" y2="333.8" stroke="#777" stroke-width="0.55" />
<text transform="translate(181.2,314.4) rotate(-90)" font-size="3.2" text-anchor="middle" fill="#666">1.0</text>
<text transform="translate(181.2,320.87) rotate(-90)" font-size="3.2" text-anchor="middle" fill="#666">1.0</text>
<text transform="translate(181.2,327.33) rotate(-90)" font-size="3.2" text-anchor="middle" fill="#666">1.0</text>
<text transform="translate(181.2,333.8) rotate(-90)" font-size="3.2" text-anchor="middle" fill="#666">1.0</text>
<line x1="194.2" y1="335.4" x2="194.2" y2="336.9" stroke="#777" stroke-width="0.5" />
<line x1="212.5" y1="335.4" x2="212.5" y2="336.9" stroke="#777" stroke-width="0.5" />
<line x1="230.2" y1="335.4" x2="230.2" y2="336.9" stroke="#777" stroke-width="0.5" />
<text x="194.2" y="340.1" font-size="3.2" text-anchor="middle" fill="#666" font-weight="normal" font-style="normal" >-1000</text>
<text x="212.5" y="340.1" font-size="3.2" text-anchor="middle" fill="#666" font-weight="normal" font-style="normal" >-500</text>
<text x="230.2" y="340.1" font-size="3.2" text-anchor="middle" fill="#666" font-weight="normal" font-style="normal" >0</text>
<polygon points="188.3,333.5 188.3,331 200,331.3 215,331.4 230,331.2 236.8,330.5 236.8,333.5" fill="#f40c0c" stroke="none" stroke-width="0" />
<polyline points="200,332.51 215,332.56 230,332.46" fill="none" stroke="#8a0f0f" stroke-width="0.7"  stroke-linejoin="round" />
<line x1="188.3" y1="324.6" x2="236.8" y2="324.6" stroke="#6a6a6a" stroke-width="1.0" />
<text x="198.2" y="323.4" font-size="7" text-anchor="start" fill="#9a1c24" font-weight="bold" font-style="normal"  stroke="#9a1c24" stroke-width="0.22">STI571</text>
<line x1="183.4" y1="343.6" x2="183.4" y2="363.9" stroke="#777" stroke-width="0.6" />
<line x1="182.1" y1="343.6" x2="183.4" y2="343.6" stroke="#777" stroke-width="0.55" />
<line x1="182.1" y1="346.93" x2="183.4" y2="346.93" stroke="#777" stroke-width="0.55" />
<line x1="182.1" y1="350.27" x2="183.4" y2="350.27" stroke="#777" stroke-width="0.55" />
<line x1="182.1" y1="353.6" x2="183.4" y2="353.6" stroke="#777" stroke-width="0.55" />
<line x1="182.1" y1="356.93" x2="183.4" y2="356.93" stroke="#777" stroke-width="0.55" />
<line x1="182.1" y1="360.27" x2="183.4" y2="360.27" stroke="#777" stroke-width="0.55" />
<line x1="182.1" y1="363.6" x2="183.4" y2="363.6" stroke="#777" stroke-width="0.55" />
<text transform="translate(181.2,343.6) rotate(-90)" font-size="3.2" text-anchor="middle" fill="#666">1.0</text>
<text transform="translate(181.2,350.27) rotate(-90)" font-size="3.2" text-anchor="middle" fill="#666">1.0</text>
<text transform="translate(181.2,356.93) rotate(-90)" font-size="3.2" text-anchor="middle" fill="#666">1.0</text>
<text transform="translate(181.2,363.6) rotate(-90)" font-size="3.2" text-anchor="middle" fill="#666">1.0</text>
<line x1="194.2" y1="365.2" x2="194.2" y2="366.7" stroke="#777" stroke-width="0.5" />
<line x1="212.5" y1="365.2" x2="212.5" y2="366.7" stroke="#777" stroke-width="0.5" />
<line x1="230.2" y1="365.2" x2="230.2" y2="366.7" stroke="#777" stroke-width="0.5" />
<text x="194.2" y="369.9" font-size="3.2" text-anchor="middle" fill="#666" font-weight="normal" font-style="normal" >-1000</text>
<text x="212.5" y="369.9" font-size="3.2" text-anchor="middle" fill="#666" font-weight="normal" font-style="normal" >-500</text>
<text x="230.2" y="369.9" font-size="3.2" text-anchor="middle" fill="#666" font-weight="normal" font-style="normal" >0</text>
<polygon points="188.3,363.8 188.3,362 200,362.2 215,362.1 230,361.8 236.8,362 236.8,363.8" fill="#10f010" stroke="none" stroke-width="0" />
<polyline points="200,363.08 215,363.04 230,362.9" fill="none" stroke="#0b560b" stroke-width="0.8"  stroke-linejoin="round" />
<line x1="188.3" y1="356.7" x2="236.8" y2="356.7" stroke="#6a6a6a" stroke-width="1.0" />
<text x="199.7" y="356.2" font-size="7" text-anchor="start" fill="#2a9a2a" font-weight="bold" font-style="normal"  stroke="#2a9a2a" stroke-width="0.22">Untreated</text>
<line x1="183.4" y1="376" x2="183.4" y2="396" stroke="#777" stroke-width="0.6" />
<line x1="182.1" y1="376" x2="183.4" y2="376" stroke="#777" stroke-width="0.55" />
<line x1="182.1" y1="379.28" x2="183.4" y2="379.28" stroke="#777" stroke-width="0.55" />
<line x1="182.1" y1="382.57" x2="183.4" y2="382.57" stroke="#777" stroke-width="0.55" />
<line x1="182.1" y1="385.85" x2="183.4" y2="385.85" stroke="#777" stroke-width="0.55" />
<line x1="182.1" y1="389.13" x2="183.4" y2="389.13" stroke="#777" stroke-width="0.55" />
<line x1="182.1" y1="392.42" x2="183.4" y2="392.42" stroke="#777" stroke-width="0.55" />
<line x1="182.1" y1="395.7" x2="183.4" y2="395.7" stroke="#777" stroke-width="0.55" />
<text transform="translate(181.2,376) rotate(-90)" font-size="3.2" text-anchor="middle" fill="#666">1.0</text>
<text transform="translate(181.2,382.57) rotate(-90)" font-size="3.2" text-anchor="middle" fill="#666">1.0</text>
<text transform="translate(181.2,389.13) rotate(-90)" font-size="3.2" text-anchor="middle" fill="#666">1.0</text>
<text transform="translate(181.2,395.7) rotate(-90)" font-size="3.2" text-anchor="middle" fill="#666">1.0</text>
<line x1="194.2" y1="397.3" x2="194.2" y2="398.8" stroke="#777" stroke-width="0.5" />
<line x1="212.5" y1="397.3" x2="212.5" y2="398.8" stroke="#777" stroke-width="0.5" />
<line x1="230.2" y1="397.3" x2="230.2" y2="398.8" stroke="#777" stroke-width="0.5" />
<text x="194.2" y="402.5" font-size="3.2" text-anchor="middle" fill="#666" font-weight="normal" font-style="normal" >-1000</text>
<text x="212.5" y="402.5" font-size="3.2" text-anchor="middle" fill="#666" font-weight="normal" font-style="normal" >-500</text>
<text x="230.2" y="402.5" font-size="3.2" text-anchor="middle" fill="#666" font-weight="normal" font-style="normal" >0</text>
<polygon points="188.3,396 188.3,393.7 200,394 215,394.2 230,393.8 236.8,393.2 236.8,396" fill="#f40c0c" stroke="none" stroke-width="0" />
<polyline points="200,395.1 215,395.19 230,395.01" fill="none" stroke="#8a0f0f" stroke-width="0.7"  stroke-linejoin="round" />
<line x1="188.3" y1="389.8" x2="236.8" y2="389.8" stroke="#6a6a6a" stroke-width="1.0" />
<text x="198.2" y="389.6" font-size="7" text-anchor="start" fill="#9a1c24" font-weight="bold" font-style="normal"  stroke="#9a1c24" stroke-width="0.22">STI571</text>
<line x1="183.4" y1="408.7" x2="183.4" y2="437.6" stroke="#777" stroke-width="0.6" />
<line x1="182.1" y1="408.7" x2="183.4" y2="408.7" stroke="#777" stroke-width="0.55" />
<line x1="182.1" y1="413.47" x2="183.4" y2="413.47" stroke="#777" stroke-width="0.55" />
<line x1="182.1" y1="418.23" x2="183.4" y2="418.23" stroke="#777" stroke-width="0.55" />
<line x1="182.1" y1="423" x2="183.4" y2="423" stroke="#777" stroke-width="0.55" />
<line x1="182.1" y1="427.77" x2="183.4" y2="427.77" stroke="#777" stroke-width="0.55" />
<line x1="182.1" y1="432.53" x2="183.4" y2="432.53" stroke="#777" stroke-width="0.55" />
<line x1="182.1" y1="437.3" x2="183.4" y2="437.3" stroke="#777" stroke-width="0.55" />
<text transform="translate(181.2,408.7) rotate(-90)" font-size="3.2" text-anchor="middle" fill="#666">1.0</text>
<text transform="translate(181.2,418.23) rotate(-90)" font-size="3.2" text-anchor="middle" fill="#666">1.0</text>
<text transform="translate(181.2,427.77) rotate(-90)" font-size="3.2" text-anchor="middle" fill="#666">1.0</text>
<text transform="translate(181.2,437.3) rotate(-90)" font-size="3.2" text-anchor="middle" fill="#666">1.0</text>
<line x1="194.2" y1="438.9" x2="194.2" y2="440.4" stroke="#777" stroke-width="0.5" />
<line x1="212.5" y1="438.9" x2="212.5" y2="440.4" stroke="#777" stroke-width="0.5" />
<line x1="230.2" y1="438.9" x2="230.2" y2="440.4" stroke="#777" stroke-width="0.5" />
<text x="194.2" y="443.9" font-size="3.2" text-anchor="middle" fill="#666" font-weight="normal" font-style="normal" >-1000</text>
<text x="212.5" y="443.9" font-size="3.2" text-anchor="middle" fill="#666" font-weight="normal" font-style="normal" >-500</text>
<text x="230.2" y="443.9" font-size="3.2" text-anchor="middle" fill="#666" font-weight="normal" font-style="normal" >0</text>
<polygon points="188.8,438.4 188.8,431.9 193.8,434.7 203,433.8 214.6,433.1 226.2,433.8 229.6,435.4 236,434.2 236,438.4" fill="#bebebe" stroke="none" stroke-width="0" />
<line x1="188.3" y1="425.2" x2="236.8" y2="425.2" stroke="#6a6a6a" stroke-width="1.0" />
<line x1="183.4" y1="450.5" x2="183.4" y2="478.9" stroke="#777" stroke-width="0.6" />
<line x1="182.1" y1="450.5" x2="183.4" y2="450.5" stroke="#777" stroke-width="0.55" />
<line x1="182.1" y1="455.18" x2="183.4" y2="455.18" stroke="#777" stroke-width="0.55" />
<line x1="182.1" y1="459.87" x2="183.4" y2="459.87" stroke="#777" stroke-width="0.55" />
<line x1="182.1" y1="464.55" x2="183.4" y2="464.55" stroke="#777" stroke-width="0.55" />
<line x1="182.1" y1="469.23" x2="183.4" y2="469.23" stroke="#777" stroke-width="0.55" />
<line x1="182.1" y1="473.92" x2="183.4" y2="473.92" stroke="#777" stroke-width="0.55" />
<line x1="182.1" y1="478.6" x2="183.4" y2="478.6" stroke="#777" stroke-width="0.55" />
<text transform="translate(181.2,450.5) rotate(-90)" font-size="3.2" text-anchor="middle" fill="#666">1.0</text>
<text transform="translate(181.2,459.87) rotate(-90)" font-size="3.2" text-anchor="middle" fill="#666">1.0</text>
<text transform="translate(181.2,469.23) rotate(-90)" font-size="3.2" text-anchor="middle" fill="#666">1.0</text>
<text transform="translate(181.2,478.6) rotate(-90)" font-size="3.2" text-anchor="middle" fill="#666">1.0</text>
<line x1="194.2" y1="480.2" x2="194.2" y2="481.7" stroke="#777" stroke-width="0.5" />
<line x1="212.5" y1="480.2" x2="212.5" y2="481.7" stroke="#777" stroke-width="0.5" />
<line x1="230.2" y1="480.2" x2="230.2" y2="481.7" stroke="#777" stroke-width="0.5" />
<text x="194.2" y="486.1" font-size="3.2" text-anchor="middle" fill="#666" font-weight="normal" font-style="normal" >-1000</text>
<text x="212.5" y="486.1" font-size="3.2" text-anchor="middle" fill="#666" font-weight="normal" font-style="normal" >-500</text>
<text x="230.2" y="486.1" font-size="3.2" text-anchor="middle" fill="#666" font-weight="normal" font-style="normal" >0</text>
<polygon points="188.8,479.2 188.8,473.5 192.7,474.6 197.3,476.9 200.8,473.9 214.6,474.2 226.2,474.6 229.6,476.2 236,474.6 236,479.2" fill="#bebebe" stroke="none" stroke-width="0" />
<line x1="188.3" y1="461.8" x2="236.8" y2="461.8" stroke="#6a6a6a" stroke-width="1.0" />
<text x="240.5" y="232.8" font-size="7.1" text-anchor="start" fill="#222" font-weight="normal" font-style="normal"  stroke="#222" stroke-width="0.22">TOM1</text>
<text x="240.5" y="295" font-size="7.1" text-anchor="start" fill="#222" font-weight="normal" font-style="normal"  stroke="#222" stroke-width="0.22">BV173</text>
<text x="239.8" y="360.5" font-size="7.1" text-anchor="start" fill="#222" font-weight="normal" font-style="normal"  stroke="#222" stroke-width="0.22">NALM1</text>
<text x="240.8" y="423.8" font-size="7.1" text-anchor="start" fill="#222" font-weight="normal" font-style="normal"  stroke="#222" stroke-width="0.22">OCI-Ly1</text>
<text x="240.8" y="462.2" font-size="7.1" text-anchor="start" fill="#222" font-weight="normal" font-style="normal"  stroke="#222" stroke-width="0.22">OCI-Ly7</text>
</svg>
</body></html>
